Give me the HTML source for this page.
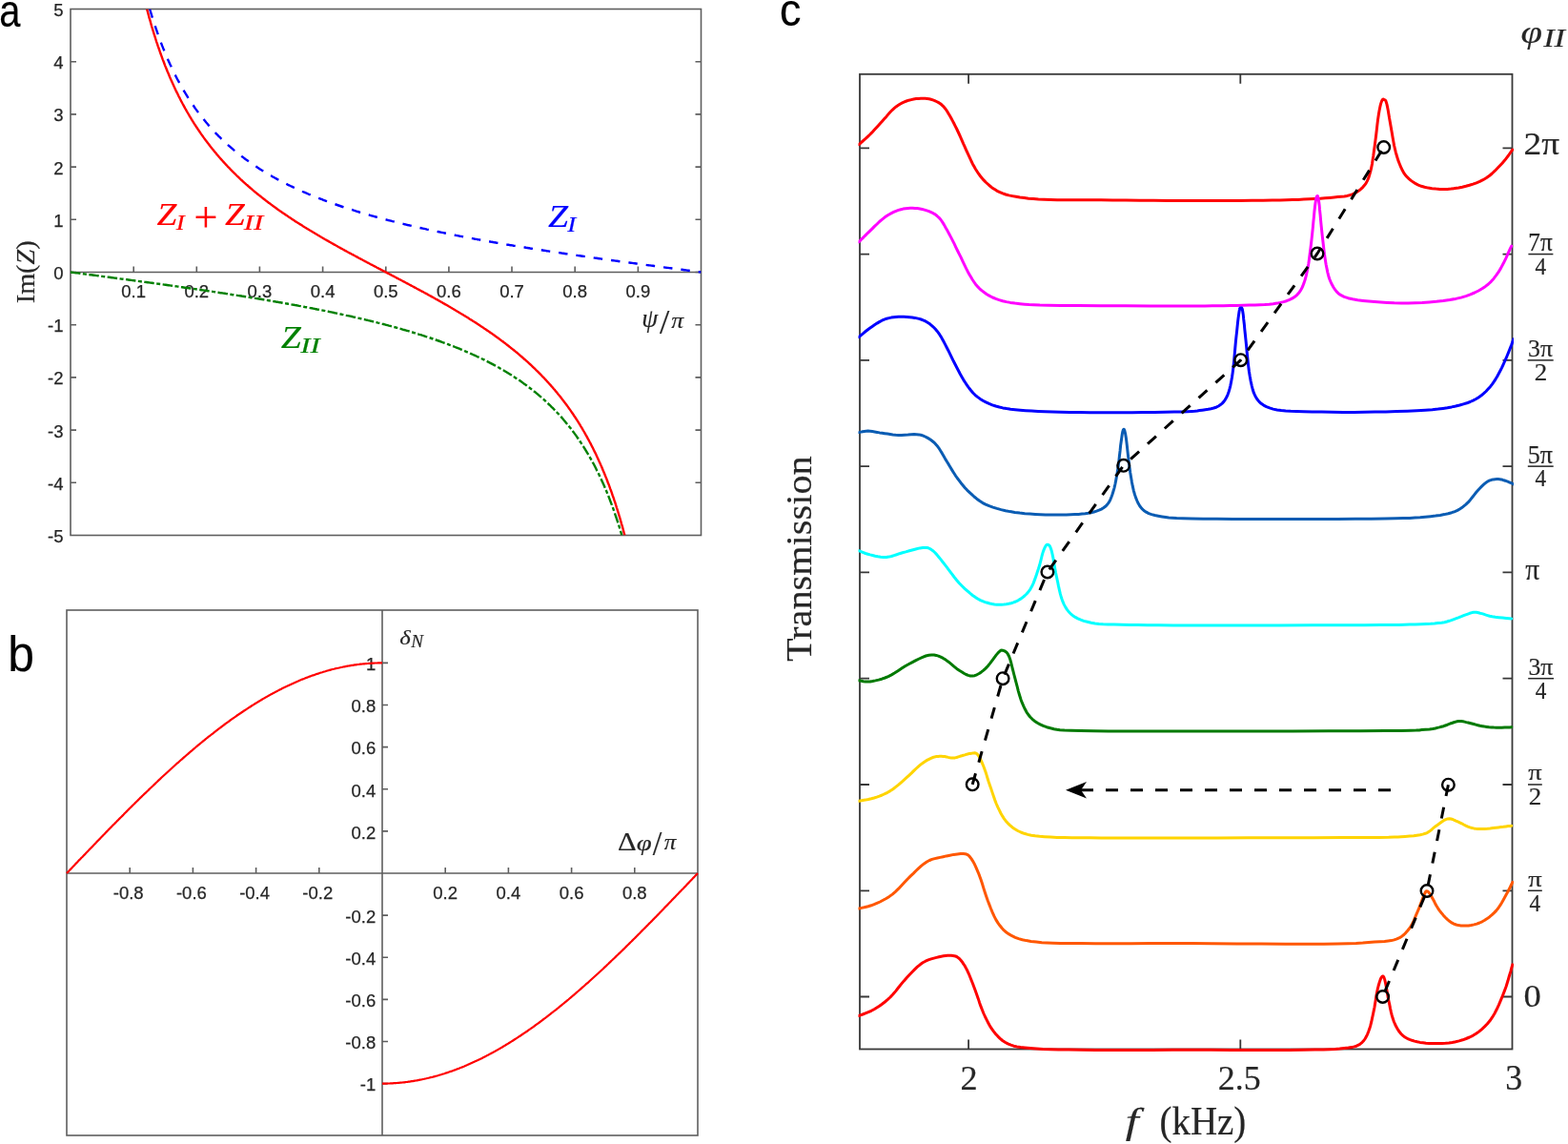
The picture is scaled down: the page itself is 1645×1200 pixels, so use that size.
<!DOCTYPE html>
<html><head><meta charset="utf-8"><title>Figure</title>
<style>html,body{margin:0;padding:0;background:#fff;}svg{display:block;}</style>
</head><body>
<svg width="1645" height="1200" viewBox="0 0 1645 1200">
<rect width="100%" height="100%" fill="#fff"/>
<g id="pa">
<rect x="74.0" y="9.5" width="661.5" height="552.0" fill="none" stroke="#5e5e5e" stroke-width="1.6"/>
<line x1="74.0" y1="285.5" x2="735.5" y2="285.5" stroke="#5e5e5e" stroke-width="1.6"/>
<path d="M74.0 506.3h6M735.5 506.3h-6M74.0 451.1h6M735.5 451.1h-6M74.0 395.9h6M735.5 395.9h-6M74.0 340.7h6M735.5 340.7h-6M74.0 285.5h6M735.5 285.5h-6M74.0 230.3h6M735.5 230.3h-6M74.0 175.1h6M735.5 175.1h-6M74.0 119.9h6M735.5 119.9h-6M74.0 64.7h6M735.5 64.7h-6M140.2 285.5v-6M206.3 285.5v-6M272.4 285.5v-6M338.6 285.5v-6M404.8 285.5v-6M470.9 285.5v-6M537 285.5v-6M603.2 285.5v-6M669.4 285.5v-6" stroke="#5e5e5e" stroke-width="1.6" fill="none"/>
<g font-family="'Liberation Sans', Arial, sans-serif" font-size="18.5" fill="#262626" stroke="#262626" stroke-width="0.25">
<text x="66.5" y="569" text-anchor="end">-5</text>
<text x="66.5" y="513.8" text-anchor="end">-4</text>
<text x="66.5" y="458.6" text-anchor="end">-3</text>
<text x="66.5" y="403.4" text-anchor="end">-2</text>
<text x="66.5" y="348.2" text-anchor="end">-1</text>
<text x="66.5" y="293" text-anchor="end">0</text>
<text x="66.5" y="237.8" text-anchor="end">1</text>
<text x="66.5" y="182.6" text-anchor="end">2</text>
<text x="66.5" y="127.4" text-anchor="end">3</text>
<text x="66.5" y="72.2" text-anchor="end">4</text>
<text x="66.5" y="17" text-anchor="end">5</text>
<text x="140.2" y="312" text-anchor="middle">0.1</text>
<text x="206.3" y="312" text-anchor="middle">0.2</text>
<text x="272.4" y="312" text-anchor="middle">0.3</text>
<text x="338.6" y="312" text-anchor="middle">0.4</text>
<text x="404.8" y="312" text-anchor="middle">0.5</text>
<text x="470.9" y="312" text-anchor="middle">0.6</text>
<text x="537" y="312" text-anchor="middle">0.7</text>
<text x="603.2" y="312" text-anchor="middle">0.8</text>
<text x="669.4" y="312" text-anchor="middle">0.9</text>
</g>
<clipPath id="cpa"><rect x="74.0" y="9.5" width="661.5" height="552.0"/></clipPath>
<g clip-path="url(#cpa)" fill="none" stroke-width="2.4">
<path d="M157.1 9.5 L158.6 14.3 L160 19 L161.5 23.6 L162.9 27.9 L164.4 32.2 L165.8 36.3 L167.2 40.3 L168.7 44.2 L170.1 47.9 L171.6 51.6 L173 55.1 L174.5 58.6 L175.9 61.9 L177.4 65.2 L178.8 68.3 L180.3 71.4 L181.7 74.4 L183.2 77.3 L184.6 80.2 L186 83 L187.5 85.7 L188.9 88.3 L190.4 90.9 L191.8 93.4 L193.3 95.8 L194.7 98.2 L196.2 100.6 L197.6 102.9 L199.1 105.1 L200.5 107.3 L202 109.4 L203.4 111.5 L204.8 113.6 L206.3 115.6 L207.7 117.6 L209.2 119.5 L210.6 121.4 L212.1 123.2 L213.5 125 L215 126.8 L216.4 128.5 L217.9 130.2 L219.3 131.9 L220.7 133.6 L222.2 135.2 L223.6 136.7 L225.1 138.3 L226.5 139.8 L228 141.3 L229.4 142.8 L230.9 144.2 L232.3 145.7 L233.8 147 L235.2 148.4 L236.7 149.8 L238.1 151.1 L239.5 152.4 L241 153.7 L242.4 154.9 L243.9 156.2 L245.3 157.4 L246.8 158.6 L248.2 159.8 L249.7 160.9 L251.1 162.1 L252.6 163.2 L254 164.3 L255.5 165.4 L256.9 166.5 L258.3 167.6 L259.8 168.6 L261.2 169.6 L262.7 170.7 L264.1 171.7 L265.6 172.6 L267 173.6 L268.5 174.6 L269.9 175.5 L271.4 176.5 L272.8 177.4 L274.2 178.3 L275.7 179.2 L277.1 180.1 L278.6 181 L280 181.8 L281.5 182.7 L282.9 183.5 L284.4 184.3 L285.8 185.2 L287.3 186 L288.7 186.8 L290.2 187.6 L291.6 188.4 L293 189.1 L294.5 189.9 L295.9 190.6 L297.4 191.4 L298.8 192.1 L300.3 192.8 L301.7 193.6 L303.2 194.3 L304.6 195 L306.1 195.7 L307.5 196.4 L309 197 L310.4 197.7 L311.8 198.4 L313.3 199 L314.7 199.7 L316.2 200.3 L317.6 201 L319.1 201.6 L320.5 202.2 L322 202.8 L323.4 203.5 L324.9 204.1 L326.3 204.7 L327.7 205.3 L329.2 205.8 L330.6 206.4 L332.1 207 L333.5 207.6 L335 208.1 L336.4 208.7 L337.9 209.2 L339.3 209.8 L340.8 210.3 L342.2 210.9 L343.7 211.4 L345.1 211.9 L346.5 212.5 L348 213 L349.4 213.5 L350.9 214 L352.3 214.5 L353.8 215 L355.2 215.5 L356.7 216 L358.1 216.5 L359.6 217 L361 217.5 L362.5 217.9 L363.9 218.4 L365.3 218.9 L366.8 219.3 L368.2 219.8 L369.7 220.2 L371.1 220.7 L372.6 221.1 L374 221.6 L375.5 222 L376.9 222.5 L378.4 222.9 L379.8 223.3 L381.2 223.8 L382.7 224.2 L384.1 224.6 L385.6 225 L387 225.4 L388.5 225.9 L389.9 226.3 L391.4 226.7 L392.8 227.1 L394.3 227.5 L395.7 227.9 L397.2 228.3 L398.6 228.7 L400 229.1 L401.5 229.4 L402.9 229.8 L404.4 230.2 L405.8 230.6 L407.3 231 L408.7 231.3 L410.2 231.7 L411.6 232.1 L413.1 232.4 L414.5 232.8 L415.9 233.2 L417.4 233.5 L418.8 233.9 L420.3 234.2 L421.7 234.6 L423.2 234.9 L424.6 235.3 L426.1 235.6 L427.5 236 L429 236.3 L430.4 236.6 L431.9 237 L433.3 237.3 L434.7 237.7 L436.2 238 L437.6 238.3 L439.1 238.6 L440.5 239 L442 239.3 L443.4 239.6 L444.9 239.9 L446.3 240.2 L447.8 240.6 L449.2 240.9 L450.7 241.2 L452.1 241.5 L453.5 241.8 L455 242.1 L456.4 242.4 L457.9 242.7 L459.3 243 L460.8 243.3 L462.2 243.6 L463.7 243.9 L465.1 244.2 L466.6 244.5 L468 244.8 L469.4 245.1 L470.9 245.4 L472.3 245.7 L473.8 246 L475.2 246.3 L476.7 246.5 L478.1 246.8 L479.6 247.1 L481 247.4 L482.5 247.7 L483.9 247.9 L485.4 248.2 L486.8 248.5 L488.2 248.8 L489.7 249 L491.1 249.3 L492.6 249.6 L494 249.9 L495.5 250.1 L496.9 250.4 L498.4 250.7 L499.8 250.9 L501.3 251.2 L502.7 251.4 L504.2 251.7 L505.6 252 L507 252.2 L508.5 252.5 L509.9 252.7 L511.4 253 L512.8 253.2 L514.3 253.5 L515.7 253.8 L517.2 254 L518.6 254.3 L520.1 254.5 L521.5 254.8 L522.9 255 L524.4 255.3 L525.8 255.5 L527.3 255.7 L528.7 256 L530.2 256.2 L531.6 256.5 L533.1 256.7 L534.5 257 L536 257.2 L537.4 257.4 L538.9 257.7 L540.3 257.9 L541.7 258.1 L543.2 258.4 L544.6 258.6 L546.1 258.8 L547.5 259.1 L549 259.3 L550.4 259.5 L551.9 259.8 L553.3 260 L554.8 260.2 L556.2 260.5 L557.7 260.7 L559.1 260.9 L560.5 261.1 L562 261.4 L563.4 261.6 L564.9 261.8 L566.3 262 L567.8 262.3 L569.2 262.5 L570.7 262.7 L572.1 262.9 L573.6 263.2 L575 263.4 L576.4 263.6 L577.9 263.8 L579.3 264 L580.8 264.3 L582.2 264.5 L583.7 264.7 L585.1 264.9 L586.6 265.1 L588 265.3 L589.5 265.6 L590.9 265.8 L592.4 266 L593.8 266.2 L595.2 266.4 L596.7 266.6 L598.1 266.8 L599.6 267 L601 267.2 L602.5 267.5 L603.9 267.7 L605.4 267.9 L606.8 268.1 L608.3 268.3 L609.7 268.5 L611.2 268.7 L612.6 268.9 L614 269.1 L615.5 269.3 L616.9 269.5 L618.4 269.7 L619.8 269.9 L621.3 270.1 L622.7 270.4 L624.2 270.6 L625.6 270.8 L627.1 271 L628.5 271.2 L629.9 271.4 L631.4 271.6 L632.8 271.8 L634.3 272 L635.7 272.2 L637.2 272.4 L638.6 272.6 L640.1 272.8 L641.5 273 L643 273.2 L644.4 273.4 L645.9 273.6 L647.3 273.8 L648.7 274 L650.2 274.2 L651.6 274.4 L653.1 274.6 L654.5 274.8 L656 275 L657.4 275.1 L658.9 275.3 L660.3 275.5 L661.8 275.7 L663.2 275.9 L664.6 276.1 L666.1 276.3 L667.5 276.5 L669 276.7 L670.4 276.9 L671.9 277.1 L673.3 277.3 L674.8 277.5 L676.2 277.7 L677.7 277.9 L679.1 278.1 L680.6 278.3 L682 278.4 L683.4 278.6 L684.9 278.8 L686.3 279 L687.8 279.2 L689.2 279.4 L690.7 279.6 L692.1 279.8 L693.6 280 L695 280.2 L696.5 280.4 L697.9 280.6 L699.4 280.8 L700.8 280.9 L702.2 281.1 L703.7 281.3 L705.1 281.5 L706.6 281.7 L708 281.9 L709.5 282.1 L710.9 282.3 L712.4 282.5 L713.8 282.7 L715.3 282.8 L716.7 283 L718.1 283.2 L719.6 283.4 L721 283.6 L722.5 283.8 L723.9 284 L725.4 284.2 L726.8 284.4 L728.3 284.6 L729.7 284.7 L731.2 284.9 L732.6 285.1 L734.1 285.3 L735.5 285.5" stroke="#0000ff" stroke-dasharray="9.5 9"/>
<path d="M74 285.5 L75.4 285.7 L76.9 285.9 L78.3 286.1 L79.8 286.3 L81.2 286.4 L82.7 286.6 L84.1 286.8 L85.6 287 L87 287.2 L88.5 287.4 L89.9 287.6 L91.4 287.8 L92.8 288 L94.2 288.2 L95.7 288.3 L97.1 288.5 L98.6 288.7 L100 288.9 L101.5 289.1 L102.9 289.3 L104.4 289.5 L105.8 289.7 L107.3 289.9 L108.7 290.1 L110.1 290.2 L111.6 290.4 L113 290.6 L114.5 290.8 L115.9 291 L117.4 291.2 L118.8 291.4 L120.3 291.6 L121.7 291.8 L123.2 292 L124.6 292.2 L126.1 292.4 L127.5 292.6 L128.9 292.7 L130.4 292.9 L131.8 293.1 L133.3 293.3 L134.7 293.5 L136.2 293.7 L137.6 293.9 L139.1 294.1 L140.5 294.3 L142 294.5 L143.4 294.7 L144.9 294.9 L146.3 295.1 L147.7 295.3 L149.2 295.5 L150.6 295.7 L152.1 295.9 L153.5 296 L155 296.2 L156.4 296.4 L157.9 296.6 L159.3 296.8 L160.8 297 L162.2 297.2 L163.6 297.4 L165.1 297.6 L166.5 297.8 L168 298 L169.4 298.2 L170.9 298.4 L172.3 298.6 L173.8 298.8 L175.2 299 L176.7 299.2 L178.1 299.4 L179.6 299.6 L181 299.8 L182.4 300 L183.9 300.2 L185.3 300.4 L186.8 300.6 L188.2 300.9 L189.7 301.1 L191.1 301.3 L192.6 301.5 L194 301.7 L195.5 301.9 L196.9 302.1 L198.3 302.3 L199.8 302.5 L201.2 302.7 L202.7 302.9 L204.1 303.1 L205.6 303.3 L207 303.5 L208.5 303.8 L209.9 304 L211.4 304.2 L212.8 304.4 L214.3 304.6 L215.7 304.8 L217.1 305 L218.6 305.2 L220 305.4 L221.5 305.7 L222.9 305.9 L224.4 306.1 L225.8 306.3 L227.3 306.5 L228.7 306.7 L230.2 307 L231.6 307.2 L233.1 307.4 L234.5 307.6 L235.9 307.8 L237.4 308.1 L238.8 308.3 L240.3 308.5 L241.7 308.7 L243.2 309 L244.6 309.2 L246.1 309.4 L247.5 309.6 L249 309.9 L250.4 310.1 L251.8 310.3 L253.3 310.5 L254.7 310.8 L256.2 311 L257.6 311.2 L259.1 311.5 L260.5 311.7 L262 311.9 L263.4 312.2 L264.9 312.4 L266.3 312.6 L267.8 312.9 L269.2 313.1 L270.6 313.3 L272.1 313.6 L273.5 313.8 L275 314 L276.4 314.3 L277.9 314.5 L279.3 314.8 L280.8 315 L282.2 315.3 L283.7 315.5 L285.1 315.7 L286.6 316 L288 316.2 L289.4 316.5 L290.9 316.7 L292.3 317 L293.8 317.2 L295.2 317.5 L296.7 317.8 L298.1 318 L299.6 318.3 L301 318.5 L302.5 318.8 L303.9 319 L305.3 319.3 L306.8 319.6 L308.2 319.8 L309.7 320.1 L311.1 320.3 L312.6 320.6 L314 320.9 L315.5 321.1 L316.9 321.4 L318.4 321.7 L319.8 322 L321.3 322.2 L322.7 322.5 L324.1 322.8 L325.6 323.1 L327 323.3 L328.5 323.6 L329.9 323.9 L331.4 324.2 L332.8 324.5 L334.3 324.7 L335.7 325 L337.2 325.3 L338.6 325.6 L340.1 325.9 L341.5 326.2 L342.9 326.5 L344.4 326.8 L345.8 327.1 L347.3 327.4 L348.7 327.7 L350.2 328 L351.6 328.3 L353.1 328.6 L354.5 328.9 L356 329.2 L357.4 329.5 L358.8 329.8 L360.3 330.1 L361.7 330.4 L363.2 330.8 L364.6 331.1 L366.1 331.4 L367.5 331.7 L369 332 L370.4 332.4 L371.9 332.7 L373.3 333 L374.8 333.3 L376.2 333.7 L377.6 334 L379.1 334.4 L380.5 334.7 L382 335 L383.4 335.4 L384.9 335.7 L386.3 336.1 L387.8 336.4 L389.2 336.8 L390.7 337.1 L392.1 337.5 L393.6 337.8 L395 338.2 L396.4 338.6 L397.9 338.9 L399.3 339.3 L400.8 339.7 L402.2 340 L403.7 340.4 L405.1 340.8 L406.6 341.2 L408 341.6 L409.5 341.9 L410.9 342.3 L412.3 342.7 L413.8 343.1 L415.2 343.5 L416.7 343.9 L418.1 344.3 L419.6 344.7 L421 345.1 L422.5 345.6 L423.9 346 L425.4 346.4 L426.8 346.8 L428.3 347.2 L429.7 347.7 L431.1 348.1 L432.6 348.5 L434 349 L435.5 349.4 L436.9 349.9 L438.4 350.3 L439.8 350.8 L441.3 351.2 L442.7 351.7 L444.2 352.1 L445.6 352.6 L447 353.1 L448.5 353.5 L449.9 354 L451.4 354.5 L452.8 355 L454.3 355.5 L455.7 356 L457.2 356.5 L458.6 357 L460.1 357.5 L461.5 358 L463 358.5 L464.4 359.1 L465.8 359.6 L467.3 360.1 L468.7 360.7 L470.2 361.2 L471.6 361.8 L473.1 362.3 L474.5 362.9 L476 363.4 L477.4 364 L478.9 364.6 L480.3 365.2 L481.8 365.7 L483.2 366.3 L484.6 366.9 L486.1 367.5 L487.5 368.2 L489 368.8 L490.4 369.4 L491.9 370 L493.3 370.7 L494.8 371.3 L496.2 372 L497.7 372.6 L499.1 373.3 L500.5 374 L502 374.6 L503.4 375.3 L504.9 376 L506.3 376.7 L507.8 377.4 L509.2 378.2 L510.7 378.9 L512.1 379.6 L513.6 380.4 L515 381.1 L516.5 381.9 L517.9 382.6 L519.3 383.4 L520.8 384.2 L522.2 385 L523.7 385.8 L525.1 386.7 L526.6 387.5 L528 388.3 L529.5 389.2 L530.9 390 L532.4 390.9 L533.8 391.8 L535.3 392.7 L536.7 393.6 L538.1 394.5 L539.6 395.5 L541 396.4 L542.5 397.4 L543.9 398.4 L545.4 399.3 L546.8 400.3 L548.3 401.4 L549.7 402.4 L551.2 403.4 L552.6 404.5 L554 405.6 L555.5 406.7 L556.9 407.8 L558.4 408.9 L559.8 410.1 L561.3 411.2 L562.7 412.4 L564.2 413.6 L565.6 414.8 L567.1 416.1 L568.5 417.3 L570 418.6 L571.4 419.9 L572.8 421.2 L574.3 422.6 L575.7 424 L577.2 425.3 L578.6 426.8 L580.1 428.2 L581.5 429.7 L583 431.2 L584.4 432.7 L585.9 434.3 L587.3 435.8 L588.8 437.4 L590.2 439.1 L591.6 440.8 L593.1 442.5 L594.5 444.2 L596 446 L597.4 447.8 L598.9 449.6 L600.3 451.5 L601.8 453.4 L603.2 455.4 L604.7 457.4 L606.1 459.5 L607.5 461.6 L609 463.7 L610.4 465.9 L611.9 468.1 L613.3 470.4 L614.8 472.8 L616.2 475.2 L617.7 477.6 L619.1 480.1 L620.6 482.7 L622 485.3 L623.5 488 L624.9 490.8 L626.3 493.7 L627.8 496.6 L629.2 499.6 L630.7 502.7 L632.1 505.8 L633.6 509.1 L635 512.4 L636.5 515.9 L637.9 519.4 L639.4 523.1 L640.8 526.8 L642.3 530.7 L643.7 534.7 L645.1 538.8 L646.6 543.1 L648 547.4 L649.5 552 L650.9 556.7 L652.4 561.5" stroke="#008000" stroke-dasharray="10.5 2.5 4 2.5"/>
<path d="M154.1 9.5 L155 12.6 L155.8 15.7 L156.6 18.8 L157.5 21.7 L158.3 24.6 L159.1 27.5 L160 30.3 L160.8 33 L161.6 35.7 L162.5 38.4 L163.3 41 L164.1 43.6 L165 46.1 L165.8 48.6 L166.7 51 L167.5 53.4 L168.3 55.8 L169.2 58.1 L170 60.4 L170.8 62.6 L171.7 64.8 L172.5 67 L173.3 69.1 L174.2 71.2 L175 73.3 L175.8 75.3 L176.7 77.3 L177.5 79.3 L178.3 81.3 L179.2 83.2 L180 85.1 L180.9 87 L181.7 88.8 L182.5 90.6 L183.4 92.4 L184.2 94.2 L185 95.9 L185.9 97.6 L186.7 99.3 L187.5 101 L188.4 102.6 L189.2 104.3 L190 105.9 L190.9 107.5 L191.7 109 L192.6 110.6 L193.4 112.1 L194.2 113.6 L195.1 115.1 L195.9 116.6 L196.7 118 L197.6 119.5 L198.4 120.9 L199.2 122.3 L200.1 123.7 L200.9 125.1 L201.7 126.4 L202.6 127.8 L203.4 129.1 L204.2 130.4 L205.1 131.7 L205.9 133 L206.8 134.2 L207.6 135.5 L208.4 136.7 L209.3 138 L210.1 139.2 L210.9 140.4 L211.8 141.6 L212.6 142.7 L213.4 143.9 L214.3 145.1 L215.1 146.2 L215.9 147.3 L216.8 148.4 L217.6 149.5 L218.4 150.6 L219.3 151.7 L220.1 152.8 L221 153.9 L221.8 154.9 L222.6 156 L223.5 157 L224.3 158 L225.1 159.1 L226 160.1 L226.8 161.1 L227.6 162.1 L228.5 163 L229.3 164 L230.1 165 L231 165.9 L231.8 166.9 L232.7 167.8 L233.5 168.7 L234.3 169.7 L235.2 170.6 L236 171.5 L236.8 172.4 L237.7 173.3 L238.5 174.2 L239.3 175.1 L240.2 175.9 L241 176.8 L241.8 177.7 L242.7 178.5 L243.5 179.4 L244.3 180.2 L245.2 181 L246 181.9 L246.9 182.7 L247.7 183.5 L248.5 184.3 L249.4 185.1 L250.2 185.9 L251 186.7 L251.9 187.5 L252.7 188.3 L253.5 189 L254.4 189.8 L255.2 190.6 L256 191.3 L256.9 192.1 L257.7 192.8 L258.5 193.6 L259.4 194.3 L260.2 195 L261.1 195.8 L261.9 196.5 L262.7 197.2 L263.6 197.9 L264.4 198.7 L265.2 199.4 L266.1 200.1 L266.9 200.8 L267.7 201.5 L268.6 202.1 L269.4 202.8 L270.2 203.5 L271.1 204.2 L271.9 204.9 L272.8 205.5 L273.6 206.2 L274.4 206.9 L275.3 207.5 L276.1 208.2 L276.9 208.8 L277.8 209.5 L278.6 210.1 L279.4 210.8 L280.3 211.4 L281.1 212 L281.9 212.7 L282.8 213.3 L283.6 213.9 L284.4 214.5 L285.3 215.1 L286.1 215.8 L287 216.4 L287.8 217 L288.6 217.6 L289.5 218.2 L290.3 218.8 L291.1 219.4 L292 220 L292.8 220.6 L293.6 221.2 L294.5 221.7 L295.3 222.3 L296.1 222.9 L297 223.5 L297.8 224.1 L298.7 224.6 L299.5 225.2 L300.3 225.8 L301.2 226.3 L302 226.9 L302.8 227.5 L303.7 228 L304.5 228.6 L305.3 229.1 L306.2 229.7 L307 230.2 L307.8 230.8 L308.7 231.3 L309.5 231.9 L310.3 232.4 L311.2 232.9 L312 233.5 L312.9 234 L313.7 234.5 L314.5 235.1 L315.4 235.6 L316.2 236.1 L317 236.6 L317.9 237.2 L318.7 237.7 L319.5 238.2 L320.4 238.7 L321.2 239.2 L322 239.8 L322.9 240.3 L323.7 240.8 L324.5 241.3 L325.4 241.8 L326.2 242.3 L327.1 242.8 L327.9 243.3 L328.7 243.8 L329.6 244.3 L330.4 244.8 L331.2 245.3 L332.1 245.8 L332.9 246.3 L333.7 246.8 L334.6 247.3 L335.4 247.8 L336.2 248.3 L337.1 248.7 L337.9 249.2 L338.8 249.7 L339.6 250.2 L340.4 250.7 L341.3 251.2 L342.1 251.6 L342.9 252.1 L343.8 252.6 L344.6 253.1 L345.4 253.6 L346.3 254 L347.1 254.5 L347.9 255 L348.8 255.4 L349.6 255.9 L350.4 256.4 L351.3 256.8 L352.1 257.3 L353 257.8 L353.8 258.2 L354.6 258.7 L355.5 259.2 L356.3 259.6 L357.1 260.1 L358 260.6 L358.8 261 L359.6 261.5 L360.5 261.9 L361.3 262.4 L362.1 262.9 L363 263.3 L363.8 263.8 L364.6 264.2 L365.5 264.7 L366.3 265.1 L367.2 265.6 L368 266 L368.8 266.5 L369.7 266.9 L370.5 267.4 L371.3 267.8 L372.2 268.3 L373 268.7 L373.8 269.2 L374.7 269.6 L375.5 270.1 L376.3 270.5 L377.2 271 L378 271.4 L378.9 271.9 L379.7 272.3 L380.5 272.7 L381.4 273.2 L382.2 273.6 L383 274.1 L383.9 274.5 L384.7 275 L385.5 275.4 L386.4 275.8 L387.2 276.3 L388 276.7 L388.9 277.2 L389.7 277.6 L390.5 278 L391.4 278.5 L392.2 278.9 L393.1 279.4 L393.9 279.8 L394.7 280.2 L395.6 280.7 L396.4 281.1 L397.2 281.6 L398.1 282 L398.9 282.4 L399.7 282.9 L400.6 283.3 L401.4 283.7 L402.2 284.2 L403.1 284.6 L403.9 285.1 L404.8 285.5 L405.6 285.9 L406.4 286.4 L407.3 286.8 L408.1 287.3 L408.9 287.7 L409.8 288.1 L410.6 288.6 L411.4 289 L412.3 289.4 L413.1 289.9 L413.9 290.3 L414.8 290.8 L415.6 291.2 L416.4 291.6 L417.3 292.1 L418.1 292.5 L419 293 L419.8 293.4 L420.6 293.8 L421.5 294.3 L422.3 294.7 L423.1 295.2 L424 295.6 L424.8 296 L425.6 296.5 L426.5 296.9 L427.3 297.4 L428.1 297.8 L429 298.3 L429.8 298.7 L430.6 299.1 L431.5 299.6 L432.3 300 L433.2 300.5 L434 300.9 L434.8 301.4 L435.7 301.8 L436.5 302.3 L437.3 302.7 L438.2 303.2 L439 303.6 L439.8 304.1 L440.7 304.5 L441.5 305 L442.3 305.4 L443.2 305.9 L444 306.3 L444.9 306.8 L445.7 307.2 L446.5 307.7 L447.4 308.1 L448.2 308.6 L449 309.1 L449.9 309.5 L450.7 310 L451.5 310.4 L452.4 310.9 L453.2 311.4 L454 311.8 L454.9 312.3 L455.7 312.8 L456.5 313.2 L457.4 313.7 L458.2 314.2 L459.1 314.6 L459.9 315.1 L460.7 315.6 L461.6 316 L462.4 316.5 L463.2 317 L464.1 317.4 L464.9 317.9 L465.7 318.4 L466.6 318.9 L467.4 319.4 L468.2 319.8 L469.1 320.3 L469.9 320.8 L470.7 321.3 L471.6 321.8 L472.4 322.3 L473.3 322.7 L474.1 323.2 L474.9 323.7 L475.8 324.2 L476.6 324.7 L477.4 325.2 L478.3 325.7 L479.1 326.2 L479.9 326.7 L480.8 327.2 L481.6 327.7 L482.4 328.2 L483.3 328.7 L484.1 329.2 L485 329.7 L485.8 330.2 L486.6 330.7 L487.5 331.2 L488.3 331.8 L489.1 332.3 L490 332.8 L490.8 333.3 L491.6 333.8 L492.5 334.4 L493.3 334.9 L494.1 335.4 L495 335.9 L495.8 336.5 L496.6 337 L497.5 337.5 L498.3 338.1 L499.2 338.6 L500 339.1 L500.8 339.7 L501.7 340.2 L502.5 340.8 L503.3 341.3 L504.2 341.9 L505 342.4 L505.8 343 L506.7 343.5 L507.5 344.1 L508.3 344.7 L509.2 345.2 L510 345.8 L510.8 346.4 L511.7 346.9 L512.5 347.5 L513.4 348.1 L514.2 348.7 L515 349.3 L515.9 349.8 L516.7 350.4 L517.5 351 L518.4 351.6 L519.2 352.2 L520 352.8 L520.9 353.4 L521.7 354 L522.5 354.6 L523.4 355.2 L524.2 355.9 L525.1 356.5 L525.9 357.1 L526.7 357.7 L527.6 358.3 L528.4 359 L529.2 359.6 L530.1 360.2 L530.9 360.9 L531.7 361.5 L532.6 362.2 L533.4 362.8 L534.2 363.5 L535.1 364.1 L535.9 364.8 L536.7 365.5 L537.6 366.1 L538.4 366.8 L539.3 367.5 L540.1 368.2 L540.9 368.9 L541.8 369.5 L542.6 370.2 L543.4 370.9 L544.3 371.6 L545.1 372.3 L545.9 373.1 L546.8 373.8 L547.6 374.5 L548.4 375.2 L549.3 376 L550.1 376.7 L551 377.4 L551.8 378.2 L552.6 378.9 L553.5 379.7 L554.3 380.4 L555.1 381.2 L556 382 L556.8 382.7 L557.6 383.5 L558.5 384.3 L559.3 385.1 L560.1 385.9 L561 386.7 L561.8 387.5 L562.6 388.3 L563.5 389.1 L564.3 390 L565.2 390.8 L566 391.6 L566.8 392.5 L567.7 393.3 L568.5 394.2 L569.3 395.1 L570.2 395.9 L571 396.8 L571.8 397.7 L572.7 398.6 L573.5 399.5 L574.3 400.4 L575.2 401.3 L576 402.3 L576.8 403.2 L577.7 404.1 L578.5 405.1 L579.4 406 L580.2 407 L581 408 L581.9 408.9 L582.7 409.9 L583.5 410.9 L584.4 411.9 L585.2 413 L586 414 L586.9 415 L587.7 416.1 L588.5 417.1 L589.4 418.2 L590.2 419.3 L591.1 420.4 L591.9 421.5 L592.7 422.6 L593.6 423.7 L594.4 424.8 L595.2 425.9 L596.1 427.1 L596.9 428.3 L597.7 429.4 L598.6 430.6 L599.4 431.8 L600.2 433 L601.1 434.3 L601.9 435.5 L602.7 436.8 L603.6 438 L604.4 439.3 L605.3 440.6 L606.1 441.9 L606.9 443.2 L607.8 444.6 L608.6 445.9 L609.4 447.3 L610.3 448.7 L611.1 450.1 L611.9 451.5 L612.8 453 L613.6 454.4 L614.4 455.9 L615.3 457.4 L616.1 458.9 L616.9 460.4 L617.8 462 L618.6 463.5 L619.5 465.1 L620.3 466.7 L621.1 468.4 L622 470 L622.8 471.7 L623.6 473.4 L624.5 475.1 L625.3 476.8 L626.1 478.6 L627 480.4 L627.8 482.2 L628.6 484 L629.5 485.9 L630.3 487.8 L631.2 489.7 L632 491.7 L632.8 493.7 L633.7 495.7 L634.5 497.7 L635.3 499.8 L636.2 501.9 L637 504 L637.8 506.2 L638.7 508.4 L639.5 510.6 L640.3 512.9 L641.2 515.2 L642 517.6 L642.8 520 L643.7 522.4 L644.5 524.9 L645.4 527.4 L646.2 530 L647 532.6 L647.9 535.3 L648.7 538 L649.5 540.7 L650.4 543.5 L651.2 546.4 L652 549.3 L652.9 552.2 L653.7 555.3 L654.5 558.4 L655.4 561.5" stroke="#ff0000"/>
</g>
</g>
<g id="pb">
<rect x="70.0" y="640.0" width="662.0" height="551.0" fill="none" stroke="#5e5e5e" stroke-width="1.6"/>
<line x1="70.0" y1="916.0" x2="732.0" y2="916.0" stroke="#5e5e5e" stroke-width="1.6"/>
<line x1="401" y1="640.0" x2="401" y2="1191.0" stroke="#5e5e5e" stroke-width="1.6"/>
<path d="M401 1136.6h6M401 1092.5h6M401 1048.4h6M401 1004.2h6M401 960.1h6M401 871.9h6M401 827.8h6M401 783.6h6M401 739.5h6M401 695.4h6M136.2 916.0v-6M202.4 916.0v-6M268.6 916.0v-6M334.8 916.0v-6M467.2 916.0v-6M533.4 916.0v-6M599.6 916.0v-6M665.8 916.0v-6" stroke="#5e5e5e" stroke-width="1.6" fill="none"/>
<g font-family="'Liberation Sans', Arial, sans-serif" font-size="18.5" fill="#262626" stroke="#262626" stroke-width="0.25">
<text x="394.2" y="1144.4" text-anchor="end">-1</text>
<text x="394.2" y="1100.3" text-anchor="end">-0.8</text>
<text x="394.2" y="1056.2" text-anchor="end">-0.6</text>
<text x="394.2" y="1012" text-anchor="end">-0.4</text>
<text x="394.2" y="967.9" text-anchor="end">-0.2</text>
<text x="394.2" y="879.7" text-anchor="end">0.2</text>
<text x="394.2" y="835.6" text-anchor="end">0.4</text>
<text x="394.2" y="791.4" text-anchor="end">0.6</text>
<text x="394.2" y="747.3" text-anchor="end">0.8</text>
<text x="394.2" y="703.2" text-anchor="end">1</text>
<text x="134.7" y="943" text-anchor="middle">-0.8</text>
<text x="200.9" y="943" text-anchor="middle">-0.6</text>
<text x="267.1" y="943" text-anchor="middle">-0.4</text>
<text x="333.3" y="943" text-anchor="middle">-0.2</text>
<text x="467.2" y="943" text-anchor="middle">0.2</text>
<text x="533.4" y="943" text-anchor="middle">0.4</text>
<text x="599.6" y="943" text-anchor="middle">0.6</text>
<text x="665.8" y="943" text-anchor="middle">0.8</text>
</g>
<path d="M70 916 L71.1 914.8 L72.2 913.7 L73.3 912.5 L74.4 911.4 L75.5 910.2 L76.6 909.1 L77.7 907.9 L78.8 906.8 L79.9 905.6 L81 904.5 L82.1 903.3 L83.2 902.1 L84.3 901 L85.4 899.8 L86.6 898.7 L87.7 897.5 L88.8 896.4 L89.9 895.2 L91 894.1 L92.1 892.9 L93.2 891.8 L94.3 890.6 L95.4 889.5 L96.5 888.4 L97.6 887.2 L98.7 886.1 L99.8 884.9 L100.9 883.8 L102 882.6 L103.1 881.5 L104.2 880.4 L105.3 879.2 L106.4 878.1 L107.5 876.9 L108.6 875.8 L109.7 874.7 L110.8 873.5 L111.9 872.4 L113 871.3 L114.1 870.1 L115.2 869 L116.3 867.9 L117.4 866.8 L118.5 865.6 L119.7 864.5 L120.8 863.4 L121.9 862.3 L123 861.1 L124.1 860 L125.2 858.9 L126.3 857.8 L127.4 856.7 L128.5 855.6 L129.6 854.5 L130.7 853.3 L131.8 852.2 L132.9 851.1 L134 850 L135.1 848.9 L136.2 847.8 L137.3 846.7 L138.4 845.6 L139.5 844.5 L140.6 843.5 L141.7 842.4 L142.8 841.3 L143.9 840.2 L145 839.1 L146.1 838 L147.2 836.9 L148.3 835.9 L149.4 834.8 L150.5 833.7 L151.6 832.6 L152.8 831.6 L153.9 830.5 L155 829.5 L156.1 828.4 L157.2 827.3 L158.3 826.3 L159.4 825.2 L160.5 824.2 L161.6 823.1 L162.7 822.1 L163.8 821 L164.9 820 L166 818.9 L167.1 817.9 L168.2 816.9 L169.3 815.8 L170.4 814.8 L171.5 813.8 L172.6 812.8 L173.7 811.8 L174.8 810.7 L175.9 809.7 L177 808.7 L178.1 807.7 L179.2 806.7 L180.3 805.7 L181.4 804.7 L182.5 803.7 L183.6 802.7 L184.7 801.7 L185.8 800.7 L187 799.8 L188.1 798.8 L189.2 797.8 L190.3 796.8 L191.4 795.9 L192.5 794.9 L193.6 793.9 L194.7 793 L195.8 792 L196.9 791.1 L198 790.1 L199.1 789.2 L200.2 788.2 L201.3 787.3 L202.4 786.3 L203.5 785.4 L204.6 784.5 L205.7 783.5 L206.8 782.6 L207.9 781.7 L209 780.8 L210.1 779.9 L211.2 779 L212.3 778.1 L213.4 777.2 L214.5 776.3 L215.6 775.4 L216.7 774.5 L217.8 773.6 L218.9 772.7 L220.1 771.9 L221.2 771 L222.3 770.1 L223.4 769.3 L224.5 768.4 L225.6 767.5 L226.7 766.7 L227.8 765.8 L228.9 765 L230 764.1 L231.1 763.3 L232.2 762.5 L233.3 761.7 L234.4 760.8 L235.5 760 L236.6 759.2 L237.7 758.4 L238.8 757.6 L239.9 756.8 L241 756 L242.1 755.2 L243.2 754.4 L244.3 753.6 L245.4 752.8 L246.5 752.1 L247.6 751.3 L248.7 750.5 L249.8 749.8 L250.9 749 L252.1 748.3 L253.2 747.5 L254.3 746.8 L255.4 746 L256.5 745.3 L257.6 744.6 L258.7 743.8 L259.8 743.1 L260.9 742.4 L262 741.7 L263.1 741 L264.2 740.3 L265.3 739.6 L266.4 738.9 L267.5 738.2 L268.6 737.5 L269.7 736.9 L270.8 736.2 L271.9 735.5 L273 734.9 L274.1 734.2 L275.2 733.5 L276.3 732.9 L277.4 732.3 L278.5 731.6 L279.6 731 L280.7 730.4 L281.8 729.7 L282.9 729.1 L284 728.5 L285.1 727.9 L286.3 727.3 L287.4 726.7 L288.5 726.1 L289.6 725.5 L290.7 725 L291.8 724.4 L292.9 723.8 L294 723.2 L295.1 722.7 L296.2 722.1 L297.3 721.6 L298.4 721 L299.5 720.5 L300.6 720 L301.7 719.4 L302.8 718.9 L303.9 718.4 L305 717.9 L306.1 717.4 L307.2 716.9 L308.3 716.4 L309.4 715.9 L310.5 715.4 L311.6 714.9 L312.7 714.5 L313.8 714 L314.9 713.5 L316 713.1 L317.1 712.6 L318.2 712.2 L319.4 711.8 L320.5 711.3 L321.6 710.9 L322.7 710.5 L323.8 710.1 L324.9 709.6 L326 709.2 L327.1 708.8 L328.2 708.4 L329.3 708.1 L330.4 707.7 L331.5 707.3 L332.6 706.9 L333.7 706.6 L334.8 706.2 L335.9 705.8 L337 705.5 L338.1 705.2 L339.2 704.8 L340.3 704.5 L341.4 704.2 L342.5 703.8 L343.6 703.5 L344.7 703.2 L345.8 702.9 L346.9 702.6 L348 702.3 L349.1 702 L350.2 701.8 L351.3 701.5 L352.5 701.2 L353.6 701 L354.7 700.7 L355.8 700.5 L356.9 700.2 L358 700 L359.1 699.8 L360.2 699.5 L361.3 699.3 L362.4 699.1 L363.5 698.9 L364.6 698.7 L365.7 698.5 L366.8 698.3 L367.9 698.1 L369 697.9 L370.1 697.8 L371.2 697.6 L372.3 697.4 L373.4 697.3 L374.5 697.1 L375.6 697 L376.7 696.9 L377.8 696.7 L378.9 696.6 L380 696.5 L381.1 696.4 L382.2 696.3 L383.3 696.2 L384.4 696.1 L385.6 696 L386.7 695.9 L387.8 695.8 L388.9 695.8 L390 695.7 L391.1 695.6 L392.2 695.6 L393.3 695.5 L394.4 695.5 L395.5 695.5 L396.6 695.4 L397.7 695.4 L398.8 695.4 L399.9 695.4 L401 695.4" stroke="#ff0000" stroke-width="2.2" fill="none"/>
<path d="M401 1136.6 L402.1 1136.6 L403.2 1136.6 L404.3 1136.6 L405.4 1136.6 L406.5 1136.5 L407.6 1136.5 L408.7 1136.5 L409.8 1136.4 L410.9 1136.4 L412 1136.3 L413.1 1136.2 L414.2 1136.2 L415.3 1136.1 L416.4 1136 L417.6 1135.9 L418.7 1135.8 L419.8 1135.7 L420.9 1135.6 L422 1135.5 L423.1 1135.4 L424.2 1135.3 L425.3 1135.1 L426.4 1135 L427.5 1134.9 L428.6 1134.7 L429.7 1134.6 L430.8 1134.4 L431.9 1134.2 L433 1134.1 L434.1 1133.9 L435.2 1133.7 L436.3 1133.5 L437.4 1133.3 L438.5 1133.1 L439.6 1132.9 L440.7 1132.7 L441.8 1132.5 L442.9 1132.2 L444 1132 L445.1 1131.8 L446.2 1131.5 L447.3 1131.3 L448.4 1131 L449.5 1130.8 L450.6 1130.5 L451.8 1130.2 L452.9 1130 L454 1129.7 L455.1 1129.4 L456.2 1129.1 L457.3 1128.8 L458.4 1128.5 L459.5 1128.2 L460.6 1127.8 L461.7 1127.5 L462.8 1127.2 L463.9 1126.8 L465 1126.5 L466.1 1126.2 L467.2 1125.8 L468.3 1125.4 L469.4 1125.1 L470.5 1124.7 L471.6 1124.3 L472.7 1123.9 L473.8 1123.6 L474.9 1123.2 L476 1122.8 L477.1 1122.4 L478.2 1121.9 L479.3 1121.5 L480.4 1121.1 L481.5 1120.7 L482.6 1120.2 L483.8 1119.8 L484.9 1119.4 L486 1118.9 L487.1 1118.5 L488.2 1118 L489.3 1117.5 L490.4 1117.1 L491.5 1116.6 L492.6 1116.1 L493.7 1115.6 L494.8 1115.1 L495.9 1114.6 L497 1114.1 L498.1 1113.6 L499.2 1113.1 L500.3 1112.6 L501.4 1112 L502.5 1111.5 L503.6 1111 L504.7 1110.4 L505.8 1109.9 L506.9 1109.3 L508 1108.8 L509.1 1108.2 L510.2 1107.6 L511.3 1107 L512.4 1106.5 L513.5 1105.9 L514.6 1105.3 L515.7 1104.7 L516.9 1104.1 L518 1103.5 L519.1 1102.9 L520.2 1102.3 L521.3 1101.6 L522.4 1101 L523.5 1100.4 L524.6 1099.7 L525.7 1099.1 L526.8 1098.5 L527.9 1097.8 L529 1097.1 L530.1 1096.5 L531.2 1095.8 L532.3 1095.1 L533.4 1094.5 L534.5 1093.8 L535.6 1093.1 L536.7 1092.4 L537.8 1091.7 L538.9 1091 L540 1090.3 L541.1 1089.6 L542.2 1088.9 L543.3 1088.2 L544.4 1087.4 L545.5 1086.7 L546.6 1086 L547.7 1085.2 L548.8 1084.5 L550 1083.7 L551.1 1083 L552.2 1082.2 L553.3 1081.5 L554.4 1080.7 L555.5 1079.9 L556.6 1079.2 L557.7 1078.4 L558.8 1077.6 L559.9 1076.8 L561 1076 L562.1 1075.2 L563.2 1074.4 L564.3 1073.6 L565.4 1072.8 L566.5 1072 L567.6 1071.2 L568.7 1070.3 L569.8 1069.5 L570.9 1068.7 L572 1067.9 L573.1 1067 L574.2 1066.2 L575.3 1065.3 L576.4 1064.5 L577.5 1063.6 L578.6 1062.7 L579.7 1061.9 L580.8 1061 L581.9 1060.1 L583.1 1059.3 L584.2 1058.4 L585.3 1057.5 L586.4 1056.6 L587.5 1055.7 L588.6 1054.8 L589.7 1053.9 L590.8 1053 L591.9 1052.1 L593 1051.2 L594.1 1050.3 L595.2 1049.4 L596.3 1048.5 L597.4 1047.5 L598.5 1046.6 L599.6 1045.7 L600.7 1044.7 L601.8 1043.8 L602.9 1042.8 L604 1041.9 L605.1 1040.9 L606.2 1040 L607.3 1039 L608.4 1038.1 L609.5 1037.1 L610.6 1036.1 L611.7 1035.2 L612.8 1034.2 L613.9 1033.2 L615 1032.2 L616.1 1031.3 L617.3 1030.3 L618.4 1029.3 L619.5 1028.3 L620.6 1027.3 L621.7 1026.3 L622.8 1025.3 L623.9 1024.3 L625 1023.3 L626.1 1022.3 L627.2 1021.3 L628.3 1020.2 L629.4 1019.2 L630.5 1018.2 L631.6 1017.2 L632.7 1016.2 L633.8 1015.1 L634.9 1014.1 L636 1013.1 L637.1 1012 L638.2 1011 L639.3 1009.9 L640.4 1008.9 L641.5 1007.8 L642.6 1006.8 L643.7 1005.7 L644.8 1004.7 L645.9 1003.6 L647 1002.5 L648.1 1001.5 L649.2 1000.4 L650.4 999.4 L651.5 998.3 L652.6 997.2 L653.7 996.1 L654.8 995.1 L655.9 994 L657 992.9 L658.1 991.8 L659.2 990.7 L660.3 989.6 L661.4 988.5 L662.5 987.5 L663.6 986.4 L664.7 985.3 L665.8 984.2 L666.9 983.1 L668 982 L669.1 980.9 L670.2 979.8 L671.3 978.7 L672.4 977.5 L673.5 976.4 L674.6 975.3 L675.7 974.2 L676.8 973.1 L677.9 972 L679 970.9 L680.1 969.7 L681.2 968.6 L682.4 967.5 L683.5 966.4 L684.6 965.2 L685.7 964.1 L686.8 963 L687.9 961.9 L689 960.7 L690.1 959.6 L691.2 958.5 L692.3 957.3 L693.4 956.2 L694.5 955.1 L695.6 953.9 L696.7 952.8 L697.8 951.6 L698.9 950.5 L700 949.4 L701.1 948.2 L702.2 947.1 L703.3 945.9 L704.4 944.8 L705.5 943.6 L706.6 942.5 L707.7 941.4 L708.8 940.2 L709.9 939.1 L711 937.9 L712.1 936.8 L713.2 935.6 L714.3 934.5 L715.4 933.3 L716.6 932.2 L717.7 931 L718.8 929.9 L719.9 928.7 L721 927.5 L722.1 926.4 L723.2 925.2 L724.3 924.1 L725.4 922.9 L726.5 921.8 L727.6 920.6 L728.7 919.5 L729.8 918.3 L730.9 917.2 L732 916" stroke="#ff0000" stroke-width="2.2" fill="none"/>
</g>
<g id="pc">
<rect x="902.0" y="77.8" width="684.5" height="1022.7" fill="none" stroke="#383838" stroke-width="1.8"/>
<path d="M902.0 155.3h10M1586.5 155.3h-10M902.0 266.6h10M1586.5 266.6h-10M902.0 377.9h10M1586.5 377.9h-10M902.0 489.1h10M1586.5 489.1h-10M902.0 600.4h10M1586.5 600.4h-10M902.0 711.7h10M1586.5 711.7h-10M902.0 823h10M1586.5 823h-10M902.0 934.3h10M1586.5 934.3h-10M902.0 1045.5h10M1586.5 1045.5h-10M1016.1 1100.5v-10M1016.1 77.8v10M1301.3 1100.5v-10M1301.3 77.8v10" stroke="#383838" stroke-width="1.8" fill="none"/>
<clipPath id="cpc"><rect x="900.5" y="57.8" width="687.5" height="1045.7"/></clipPath>
<g clip-path="url(#cpc)" fill="none" stroke-width="3" stroke-linejoin="round" stroke-linecap="round">
<path d="M901 151.7 L902.3 150.6 L904 149 L906.1 147.2 L908.4 145.2 L910.6 143.1 L912.8 141 L914.9 138.9 L917 136.6 L919.1 134.3 L921.2 131.9 L923.4 129.5 L925.5 127.2 L927.6 124.8 L929.8 122.4 L931.9 119.9 L934 117.5 L936.2 115.3 L938.3 113.4 L940.4 111.7 L942.5 110.3 L944.5 109 L946.6 107.9 L948.8 106.9 L951 106 L953.4 105.2 L955.9 104.6 L958.5 104 L961.1 103.6 L963.6 103.4 L966 103.2 L968.3 103.2 L970.5 103.3 L972.6 103.5 L974.7 103.8 L976.7 104.3 L978.7 104.9 L980.6 105.6 L982.5 106.5 L984.3 107.4 L986.1 108.5 L987.8 109.8 L989.4 111.3 L990.9 113 L992.4 114.9 L993.8 117 L995.1 119.2 L996.5 121.6 L997.9 124 L999.3 126.6 L1000.7 129.3 L1002.1 132.1 L1003.6 135 L1005 138 L1006.4 141 L1007.8 144.1 L1009.2 147.3 L1010.6 150.6 L1012.1 153.9 L1013.5 157.1 L1014.9 160.2 L1016.3 163.2 L1017.7 166.1 L1019 169 L1020.4 171.9 L1021.9 174.6 L1023.4 177.2 L1025 179.7 L1026.6 182.2 L1028.3 184.5 L1030.1 186.7 L1032 188.9 L1034 191 L1036.2 193 L1038.5 195 L1040.8 196.9 L1043.4 198.6 L1046.1 200.3 L1049 201.7 L1052 202.9 L1055.1 204 L1058.4 204.9 L1062 205.6 L1065.8 206.3 L1070 207 L1074.5 207.6 L1079.1 208.2 L1084 208.6 L1089.4 209 L1095.3 209.3 L1102 209.6 L1109.2 209.8 L1116.9 209.8 L1125.2 209.8 L1134.2 209.8 L1144.1 209.8 L1155 209.8 L1167.3 209.9 L1181 210 L1195.5 210.2 L1210.5 210.3 L1225.5 210.4 L1240 210.5 L1254.7 210.5 L1269.9 210.5 L1285.2 210.5 L1299.9 210.4 L1313.4 210.3 L1325.1 210.2 L1334.8 210.1 L1342.8 209.9 L1349.7 209.8 L1355.9 209.6 L1361.7 209.4 L1367.7 209.1 L1373.8 208.8 L1379.6 208.5 L1385.1 208.2 L1390.3 207.8 L1395.1 207.4 L1399.6 207 L1403.6 206.6 L1407.1 206.2 L1410.3 205.9 L1413.3 205.4 L1416 204.7 L1418.7 203.8 L1421.3 202.6 L1423.7 201.3 L1425.9 199.8 L1427.9 198.1 L1429.8 196.3 L1431.5 194.3 L1433 192.3 L1434.2 190.1 L1435.2 187.9 L1436.2 185.4 L1437 182.6 L1437.9 179.4 L1438.7 175.8 L1439.5 172 L1440.1 167.8 L1440.8 163.4 L1441.4 158.7 L1442.1 153.8 L1442.8 148.4 L1443.6 142.3 L1444.3 136.1 L1445 129.9 L1445.7 124.4 L1446.4 119.8 L1447 116.2 L1447.6 113.2 L1448.1 110.9 L1448.6 108.9 L1449.1 107.4 L1449.6 106 L1450.1 105 L1450.5 104.4 L1450.9 104.1 L1451.3 104.1 L1451.7 104.3 L1452.1 104.5 L1452.5 104.7 L1453 104.9 L1453.4 105.2 L1453.9 105.9 L1454.3 107.2 L1454.9 109.1 L1455.5 111.9 L1456.2 115.5 L1456.9 119.7 L1457.6 124.1 L1458.4 128.5 L1459.1 132.6 L1459.8 136.6 L1460.5 140.6 L1461.2 144.7 L1461.9 148.7 L1462.6 152.5 L1463.4 156 L1464.2 159.3 L1465 162.3 L1465.9 165.2 L1466.7 167.9 L1467.7 170.5 L1468.7 173 L1469.7 175.4 L1470.8 177.7 L1471.9 179.8 L1473.1 181.9 L1474.5 183.8 L1476.2 185.7 L1478.2 187.6 L1480.3 189.4 L1482.7 191.1 L1485.2 192.7 L1488 194.1 L1491.1 195.3 L1494.5 196.3 L1498.3 197.1 L1502.3 197.7 L1506.4 198.1 L1510.5 198.4 L1514.5 198.5 L1518.4 198.4 L1522.4 198.1 L1526.3 197.6 L1530.3 197 L1534.1 196.2 L1537.9 195.3 L1541.6 194.3 L1545.3 193.1 L1548.9 191.8 L1552.4 190.4 L1555.8 188.7 L1559.1 186.8 L1562.3 184.6 L1565.3 182 L1568.3 179.2 L1571.1 176.3 L1573.8 173.5 L1576.2 170.9 L1578.5 168.3 L1580.6 165.6 L1582.6 163 L1584.3 160.5 L1585.7 158.5 L1586.8 157" stroke="#ff0000"/>
<path d="M901 253.8 L902.2 252.6 L903.9 250.8 L906 248.8 L908.2 246.6 L910.5 244.3 L912.8 242.1 L915.1 239.9 L917.5 237.4 L920.1 235 L922.6 232.5 L925.2 230.3 L927.7 228.3 L930.2 226.6 L932.7 225 L935.2 223.6 L937.6 222.4 L940.1 221.3 L942.6 220.4 L945.1 219.7 L947.5 219.1 L950 218.7 L952.5 218.4 L954.9 218.3 L957.4 218.3 L959.9 218.4 L962.4 218.6 L965 219 L967.5 219.5 L969.9 220.1 L972.3 220.9 L974.6 221.7 L976.8 222.7 L979 223.7 L981.1 224.9 L983.1 226.5 L985.1 228.3 L987 230.5 L988.8 233.1 L990.5 235.9 L992.2 239 L994 242.1 L995.7 245.3 L997.5 248.6 L999.3 252.1 L1001.1 255.7 L1002.8 259.3 L1004.6 263 L1006.4 266.6 L1008.2 270.2 L1009.9 273.9 L1011.7 277.7 L1013.5 281.3 L1015.2 284.7 L1017 287.9 L1018.7 290.8 L1020.3 293.5 L1022 296 L1023.7 298.4 L1025.6 300.6 L1027.7 302.8 L1030.1 304.9 L1032.6 306.8 L1035.3 308.7 L1038.2 310.4 L1041.3 312 L1044.7 313.4 L1048.2 314.6 L1051.9 315.7 L1055.7 316.6 L1060 317.4 L1064.7 318.1 L1070 318.7 L1075 319.2 L1079.5 319.6 L1084.4 319.8 L1090.9 320.1 L1100 320.2 L1112.8 320.4 L1131.2 320.6 L1154.6 320.7 L1180.7 320.8 L1206.9 320.9 L1230.9 320.9 L1250 320.9 L1264 320.9 L1274.9 320.8 L1283.5 320.7 L1290.6 320.5 L1297.1 320.4 L1303.8 320.2 L1310.5 320 L1316.5 319.9 L1321.9 319.7 L1326.8 319.5 L1331.4 319.2 L1335.7 318.7 L1339.7 318.1 L1343.4 317.4 L1346.6 316.6 L1349.6 315.7 L1352.3 314.6 L1354.9 313.4 L1357.2 312.1 L1359.2 310.7 L1361 309.1 L1362.6 307.3 L1364.1 305.2 L1365.5 302.8 L1366.8 300 L1368 296.9 L1369.1 293.5 L1370.1 289.8 L1371 285.8 L1371.9 281.5 L1372.8 276.8 L1373.5 271.7 L1374.2 266.2 L1374.9 260.6 L1375.6 255 L1376.2 249.6 L1376.8 244 L1377.4 238.2 L1377.9 232.4 L1378.5 226.8 L1378.9 221.8 L1379.4 217.7 L1379.8 214.4 L1380.2 211.7 L1380.5 209.5 L1380.8 207.9 L1381.2 206.7 L1381.5 206 L1381.8 205.6 L1382.2 205.5 L1382.5 205.9 L1382.8 206.9 L1383.2 208.7 L1383.6 211.3 L1384.1 215.1 L1384.5 219.9 L1385.1 225.5 L1385.6 231.4 L1386.2 237.5 L1386.8 243.2 L1387.4 248.9 L1388.1 254.8 L1388.8 260.9 L1389.5 266.7 L1390.3 272.2 L1391.1 277.2 L1392 281.6 L1392.8 285.6 L1393.7 289.2 L1394.7 292.5 L1396 295.6 L1397.4 298.5 L1398.9 301.2 L1400.5 303.7 L1402.2 305.9 L1404.3 307.9 L1406.9 309.7 L1410.2 311.3 L1414.3 312.7 L1419 313.8 L1424.3 314.7 L1430 315.4 L1435.9 316 L1442.1 316.6 L1448.6 317.1 L1455.5 317.5 L1462.7 317.8 L1470.1 317.9 L1477.5 317.9 L1484.7 317.7 L1492 317.4 L1499.4 316.9 L1506.9 316.3 L1514.1 315.5 L1521 314.5 L1527.2 313.4 L1532.8 312.1 L1537.9 310.6 L1542.6 308.9 L1547 307 L1551.1 305 L1554.9 302.8 L1558.4 300.4 L1561.5 298 L1564.3 295.3 L1566.9 292.4 L1569.4 289.2 L1571.9 285.7 L1574.5 281.4 L1577.2 276.3 L1579.9 270.8 L1582.2 265.6 L1584.2 261.2 L1585.7 258.1" stroke="#ff00ff"/>
<path d="M901 353.6 L902.2 352.5 L903.9 351.1 L906 349.4 L908.2 347.5 L910.5 345.7 L912.8 344 L915.1 342.4 L917.5 340.8 L920.1 339.1 L922.6 337.6 L925.2 336.2 L927.7 335.1 L930.2 334.2 L932.6 333.6 L935 333.1 L937.5 332.7 L940 332.5 L942.6 332.3 L945.4 332.2 L948.3 332.3 L951.2 332.4 L954.2 332.7 L957 333 L959.6 333.4 L962 333.9 L964.2 334.4 L966.3 335 L968.4 335.8 L970.3 336.6 L972.3 337.7 L974.2 338.9 L976.1 340.3 L977.9 341.8 L979.7 343.5 L981.4 345.3 L983 347.2 L984.5 349.2 L985.9 351.2 L987.3 353.4 L988.6 355.8 L990 358.3 L991.5 361.1 L993.1 364.2 L994.9 367.7 L996.7 371.4 L998.5 375.1 L1000.3 378.8 L1002.1 382.3 L1003.9 385.7 L1005.6 389 L1007.3 392.3 L1009.1 395.5 L1010.9 398.6 L1012.8 401.5 L1014.7 404.3 L1016.6 407 L1018.6 409.5 L1020.7 412 L1023 414.3 L1025.5 416.4 L1028.3 418.4 L1031.2 420.2 L1034.3 421.9 L1037.6 423.4 L1041.1 424.8 L1044.7 426 L1048.4 427 L1052.1 427.9 L1056 428.6 L1060.2 429.2 L1064.9 429.7 L1070.2 430.2 L1076.1 430.7 L1082.3 431.1 L1089.1 431.5 L1096.4 431.8 L1104.3 432.1 L1112.8 432.3 L1122.2 432.5 L1132.5 432.6 L1143.4 432.7 L1154.6 432.8 L1165.7 432.8 L1176.6 432.8 L1187.7 432.7 L1199.3 432.6 L1211 432.5 L1222 432.3 L1231.9 432.1 L1240 431.9 L1246 431.7 L1250.4 431.5 L1253.5 431.3 L1256.1 431 L1258.5 430.6 L1261.3 430.2 L1264.5 429.7 L1267.6 429.3 L1270.5 428.7 L1273.3 428 L1275.9 427.2 L1278.3 426 L1280.4 424.6 L1282.2 423.1 L1283.8 421.4 L1285.3 419.3 L1286.6 417 L1287.9 414.3 L1289 411.2 L1290 407.9 L1290.9 404.3 L1291.7 400.2 L1292.5 395.8 L1293.2 390.9 L1293.9 385.2 L1294.6 378.8 L1295.2 371.9 L1295.8 365 L1296.4 358.4 L1297 352.6 L1297.6 347.3 L1298.1 342.3 L1298.6 337.6 L1299.1 333.4 L1299.6 329.9 L1300 327 L1300.4 325 L1300.6 323.8 L1300.9 323.3 L1301.2 323.1 L1301.4 323.1 L1301.7 323.2 L1302 323.1 L1302.3 322.9 L1302.7 323 L1303 323.5 L1303.4 324.8 L1303.8 327 L1304.3 330.4 L1304.7 334.7 L1305.3 339.7 L1305.8 345.3 L1306.4 351 L1307 356.8 L1307.6 362.9 L1308.2 369.5 L1308.9 376.4 L1309.6 383.1 L1310.4 389.5 L1311.3 395.1 L1312.2 400 L1313.2 404.5 L1314.2 408.5 L1315.4 412.2 L1316.9 415.5 L1318.7 418.5 L1320.8 421.1 L1323.1 423.3 L1325.7 425.1 L1328.6 426.6 L1331.9 427.9 L1335.7 429.1 L1339.8 430 L1344.1 430.6 L1348.8 431 L1354.1 431.3 L1360.4 431.5 L1367.7 431.7 L1376.5 431.9 L1386.6 432.1 L1397.6 432.3 L1409.1 432.4 L1420.5 432.4 L1431.5 432.3 L1442.5 432.1 L1453.9 431.9 L1465.4 431.6 L1476.4 431.2 L1486.5 430.7 L1495.3 430.2 L1502.6 429.7 L1508.7 429.1 L1513.9 428.4 L1518.5 427.7 L1522.9 426.9 L1527.2 426 L1531.4 425 L1535.3 423.9 L1538.9 422.8 L1542.3 421.5 L1545.4 420.1 L1548.5 418.5 L1551.4 416.7 L1554.1 414.8 L1556.6 412.7 L1559 410.5 L1561.2 408.1 L1563.4 405.7 L1565.4 403.1 L1567.3 400.4 L1569.1 397.6 L1570.8 394.7 L1572.4 391.7 L1574 388.7 L1575.6 385.6 L1577.1 382.3 L1578.6 379 L1580.1 375.7 L1581.4 372.5 L1582.6 369.6 L1583.7 366.8 L1584.8 364.1 L1585.8 361.5 L1586.6 359.1 L1587.4 357.2 L1587.9 355.7" stroke="#0000ff"/>
<path d="M901 453.6 L902 453.4 L903.3 453.1 L904.9 452.7 L906.7 452.4 L908.6 452.2 L910.6 452.1 L912.8 452.3 L915.1 452.6 L917.6 453 L920.2 453.4 L922.8 453.9 L925.5 454.3 L928.2 454.7 L931 455.1 L933.8 455.5 L936.7 455.9 L939.6 456.2 L942.6 456.4 L945.8 456.4 L949.1 456.2 L952.6 456 L955.9 455.7 L959 455.6 L961.7 455.7 L964 455.9 L965.9 456.3 L967.5 456.7 L969.1 457.3 L970.6 458 L972.3 458.9 L974.1 459.9 L975.9 461 L977.6 462.3 L979.4 463.7 L981.2 465.4 L983 467.4 L984.8 469.8 L986.5 472.5 L988.3 475.4 L990.1 478.5 L991.8 481.6 L993.6 484.5 L995.4 487.4 L997.1 490.3 L998.8 493.1 L1000.6 496 L1002.4 498.8 L1004.3 501.5 L1006.3 504.1 L1008.2 506.7 L1010.3 509.2 L1012.4 511.7 L1014.6 514.1 L1017 516.4 L1019.5 518.7 L1022 521 L1024.7 523.2 L1027.5 525.3 L1030.6 527.3 L1034 529.1 L1037.7 530.7 L1041.7 532.1 L1045.9 533.4 L1050.3 534.6 L1054.9 535.7 L1059.6 536.6 L1064.6 537.4 L1069.8 538.1 L1075.2 538.7 L1080.6 539.1 L1086.1 539.5 L1091.5 539.8 L1096.9 540 L1102.5 540.1 L1108.1 540.1 L1113.6 540.1 L1118.7 540 L1123.4 539.8 L1127.6 539.6 L1131.5 539.4 L1135.1 539.1 L1138.5 538.8 L1141.6 538.3 L1144.7 537.7 L1147.6 537 L1150.4 536.1 L1153 535.2 L1155.4 534.1 L1157.6 532.8 L1159.6 531.3 L1161.3 529.7 L1162.7 527.9 L1163.9 526 L1165 523.8 L1166 521.3 L1167 518.5 L1168 515.3 L1169 511.8 L1169.9 508 L1170.7 503.9 L1171.5 499.6 L1172.3 495.1 L1173 490.1 L1173.8 484.4 L1174.4 478.5 L1175.1 472.7 L1175.6 467.5 L1176.2 463.2 L1176.7 459.7 L1177.1 456.7 L1177.5 454.3 L1177.9 452.4 L1178.3 451.1 L1178.7 450.4 L1179.1 450.3 L1179.5 450.8 L1179.9 451.8 L1180.3 453.5 L1180.8 455.9 L1181.3 458.9 L1181.8 462.9 L1182.4 468 L1183 473.7 L1183.7 479.7 L1184.4 485.5 L1185.1 490.9 L1185.8 495.9 L1186.6 500.8 L1187.4 505.6 L1188.3 510.2 L1189.3 514.6 L1190.4 518.5 L1191.6 522.1 L1192.9 525.3 L1194.3 528.3 L1195.9 531 L1197.8 533.4 L1200 535.5 L1202.5 537.2 L1205.2 538.6 L1208.2 539.6 L1211.5 540.5 L1215.1 541.2 L1219.1 541.9 L1222.8 542.5 L1226.1 543 L1229.7 543.3 L1234.4 543.6 L1240.9 543.8 L1250 544 L1262.2 544.2 L1276.9 544.3 L1293.5 544.4 L1311.1 544.5 L1329 544.5 L1346.4 544.5 L1364.3 544.5 L1383.5 544.5 L1403 544.4 L1421.7 544.3 L1438.6 544.2 L1452.8 544 L1463.8 543.8 L1472.2 543.6 L1479 543.4 L1484.6 543.1 L1489.8 542.8 L1495.3 542.3 L1500.9 541.7 L1506.1 541.1 L1510.9 540.4 L1515.3 539.6 L1519.3 538.7 L1523 537.7 L1526.2 536.6 L1529 535.4 L1531.4 534 L1533.6 532.6 L1535.7 530.9 L1537.9 529.1 L1540.2 526.9 L1542.4 524.4 L1544.5 521.8 L1546.6 519.1 L1548.6 516.5 L1550.6 514.3 L1552.5 512.3 L1554.3 510.4 L1556.1 508.7 L1557.8 507.2 L1559.5 505.8 L1561.3 504.7 L1563.1 503.9 L1564.9 503.3 L1566.7 502.9 L1568.5 502.7 L1570.3 502.6 L1571.9 502.6 L1573.4 502.7 L1574.9 502.9 L1576.3 503.3 L1577.7 503.8 L1579.1 504.2 L1580.4 504.7 L1581.8 505.2 L1583.3 505.8 L1584.7 506.4 L1586 507 L1587.1 507.5 L1587.9 507.9" stroke="#0a5cb3"/>
<path d="M901 577.7 L902.2 578.2 L903.9 578.8 L905.8 579.6 L908 580.5 L910.4 581.2 L912.8 581.9 L915.3 582.5 L918.1 583.2 L921 583.8 L923.9 584.2 L926.9 584.5 L929.8 584.5 L932.6 584.1 L935.3 583.5 L938 582.6 L940.8 581.7 L943.7 580.7 L946.8 579.8 L950.2 578.9 L954 577.8 L957.9 576.7 L961.6 575.7 L965.1 574.9 L968.1 574.5 L970.5 574.4 L972.3 574.5 L973.9 574.8 L975.4 575.5 L976.9 576.4 L978.7 577.7 L980.7 579.5 L982.7 581.6 L984.8 584.2 L987 586.9 L989.2 589.7 L991.5 592.6 L993.8 595.6 L996.2 598.8 L998.7 602.2 L1001.2 605.5 L1003.8 608.7 L1006.4 611.7 L1009.1 614.5 L1012 617.3 L1014.9 619.9 L1017.8 622.4 L1020.7 624.7 L1023.4 626.6 L1026 628.2 L1028.5 629.6 L1031 630.7 L1033.4 631.6 L1035.8 632.3 L1038.3 633 L1040.8 633.5 L1043.3 633.9 L1045.8 634.2 L1048.2 634.3 L1050.7 634.2 L1053.2 634 L1055.7 633.7 L1058.2 633.3 L1060.8 632.7 L1063.3 631.9 L1065.7 631 L1068.1 629.8 L1070.4 628.4 L1072.7 626.8 L1074.9 625 L1077 623 L1079 620.7 L1080.9 618.1 L1082.6 615.1 L1084.2 611.6 L1085.6 607.9 L1087 604.1 L1088.2 600.3 L1089.4 596.8 L1090.5 593.3 L1091.4 589.8 L1092.3 586.3 L1093.1 583 L1093.9 580.1 L1094.7 577.7 L1095.5 575.8 L1096.2 574.2 L1096.9 572.9 L1097.5 572 L1098.2 571.5 L1098.9 571.3 L1099.6 571.4 L1100.3 571.7 L1101 572.4 L1101.7 573.5 L1102.4 575.3 L1103.2 577.7 L1104 581.1 L1104.9 585.4 L1105.7 590.3 L1106.6 595.5 L1107.5 600.6 L1108.5 605.3 L1109.5 609.8 L1110.4 614.4 L1111.4 618.9 L1112.4 623.2 L1113.6 627.3 L1114.9 630.9 L1116.3 634.1 L1117.8 636.9 L1119.4 639.4 L1121.2 641.7 L1123.2 643.8 L1125.5 645.7 L1128.1 647.4 L1130.8 648.9 L1133.8 650.2 L1137 651.4 L1140.7 652.3 L1144.7 653.2 L1148.8 653.9 L1152.9 654.4 L1157.3 654.7 L1162.4 654.9 L1168.7 655.1 L1176.6 655.3 L1185.2 655.5 L1194 655.6 L1203.9 655.7 L1216 655.8 L1231 655.9 L1250 655.9 L1275.5 655.9 L1307.2 655.9 L1342 655.9 L1376.5 655.8 L1407.4 655.8 L1431.5 655.7 L1448.1 655.6 L1459.7 655.5 L1467.7 655.4 L1473.6 655.3 L1478.8 655.1 L1484.7 654.9 L1490.9 654.7 L1496.3 654.5 L1500.9 654.3 L1505 654 L1508.7 653.6 L1512.3 653.2 L1515.5 652.7 L1518.1 652 L1520.4 651.3 L1522.5 650.6 L1524.7 649.8 L1527.2 648.9 L1530 647.9 L1533.1 646.7 L1536.2 645.4 L1539.2 644.3 L1541.9 643.3 L1544.3 642.6 L1546.2 642.3 L1547.6 642.2 L1548.8 642.3 L1550 642.5 L1551.2 642.8 L1552.8 643.2 L1554.6 643.6 L1556.4 644.2 L1558.4 644.9 L1560.6 645.6 L1562.9 646.3 L1565.5 646.8 L1568.7 647.3 L1572.4 647.7 L1576.4 648.1 L1580.2 648.4 L1583.4 648.7 L1585.7 648.9" stroke="#00ffff"/>
<path d="M901 713.8 L902.2 714 L903.8 714.3 L905.7 714.7 L907.9 715 L910.3 715.1 L912.8 714.9 L915.5 714.5 L918.5 713.9 L921.8 713.1 L925.1 712.2 L928.5 711 L931.9 709.6 L935.3 707.9 L938.8 705.8 L942.4 703.5 L946 701.1 L949.6 698.8 L953.2 696.8 L956.8 694.9 L960.5 692.9 L964.3 691 L967.9 689.3 L971.3 688 L974.5 687.2 L977.3 686.9 L979.9 687 L982.2 687.4 L984.5 688.1 L986.9 689.2 L989.4 690.4 L992.1 692.1 L995 694.2 L998 696.6 L1000.9 699.1 L1003.7 701.4 L1006.4 703.2 L1008.9 704.7 L1011.2 706.2 L1013.5 707.5 L1015.7 708.4 L1017.9 709 L1020.2 709.1 L1022.5 708.7 L1024.8 707.8 L1027.2 706.5 L1029.5 704.9 L1031.8 703.1 L1034 701.1 L1036.3 698.7 L1038.6 695.9 L1040.9 692.8 L1043.1 689.8 L1045.1 687.1 L1046.8 685.1 L1048.1 683.8 L1049.1 682.9 L1049.8 682.3 L1050.5 682.1 L1051.2 682.1 L1052.1 682.3 L1053.1 682.6 L1054.2 683 L1055.2 683.7 L1056.3 684.7 L1057.4 686.2 L1058.5 688.3 L1059.6 691.2 L1060.6 694.7 L1061.6 698.8 L1062.7 703.1 L1063.8 707.5 L1064.9 711.7 L1066 715.9 L1067.2 720.4 L1068.3 724.8 L1069.6 729.2 L1070.9 733.4 L1072.3 737.2 L1073.8 740.6 L1075.3 743.8 L1076.9 746.8 L1078.7 749.5 L1080.7 752 L1083 754.3 L1085.5 756.4 L1088.3 758.3 L1091.2 759.9 L1094.5 761.4 L1098.1 762.7 L1102.1 763.8 L1105.7 764.7 L1108.7 765.3 L1112 765.8 L1116.7 766.1 L1123.7 766.3 L1134 766.6 L1147.5 766.8 L1163.2 766.9 L1181.3 767 L1201.8 767 L1224.7 767 L1250 767 L1280.6 767 L1317.1 767 L1356 766.9 L1393.9 766.8 L1427.3 766.7 L1452.8 766.6 L1469.5 766.5 L1479.8 766.3 L1485.7 766.1 L1489 765.9 L1491.5 765.6 L1495.3 765.3 L1499.7 764.9 L1503.1 764.5 L1505.8 764 L1508 763.4 L1510.1 762.9 L1512.3 762.3 L1514.5 761.7 L1516.4 761 L1518.2 760.3 L1519.8 759.7 L1521.4 759 L1523 758.5 L1524.5 758 L1525.9 757.5 L1527.3 757.1 L1528.6 756.7 L1530 756.5 L1531.5 756.4 L1533.1 756.5 L1534.8 756.7 L1536.5 757.1 L1538.3 757.6 L1540.2 758 L1542.1 758.5 L1544.1 759 L1546.1 759.5 L1548.2 760.1 L1550.4 760.7 L1552.6 761.3 L1554.9 761.7 L1557.3 762.1 L1559.7 762.4 L1562.2 762.7 L1564.7 762.9 L1567.2 763.1 L1569.8 763.2 L1572.6 763.2 L1575.6 763.2 L1578.7 763.1 L1581.5 763 L1584 762.9 L1585.7 762.8" stroke="#007a00"/>
<path d="M901 840.2 L902.7 839.9 L905.1 839.5 L907.9 839.1 L911 838.5 L914.1 837.8 L917 837 L919.8 836.1 L922.6 835.1 L925.4 834 L928.3 832.7 L931.1 831.3 L934 829.6 L936.9 827.7 L939.8 825.4 L942.7 823.1 L945.6 820.6 L948.4 818.1 L951.1 815.7 L953.7 813.3 L956.3 810.9 L958.8 808.4 L961.3 806 L963.7 803.8 L966 801.9 L968.3 800.2 L970.5 798.7 L972.6 797.4 L974.7 796.3 L976.7 795.3 L978.7 794.5 L980.6 793.9 L982.4 793.6 L984.2 793.4 L985.9 793.3 L987.6 793.3 L989.4 793.4 L991.2 793.6 L992.9 793.9 L994.7 794.4 L996.5 794.8 L998.2 795 L1000 795.1 L1001.8 794.9 L1003.6 794.5 L1005.4 793.9 L1007.2 793.3 L1009 792.8 L1010.6 792.3 L1012.2 791.9 L1013.7 791.4 L1015.1 791 L1016.5 790.6 L1017.8 790.4 L1019.1 790.2 L1020.3 790.1 L1021.4 789.9 L1022.4 789.8 L1023.4 790 L1024.5 790.4 L1025.5 791.3 L1026.6 792.7 L1027.6 794.4 L1028.7 796.5 L1029.8 798.9 L1030.8 801.4 L1031.9 804 L1032.9 806.8 L1034 809.8 L1035 812.9 L1036 816.2 L1037.1 819.7 L1038.3 823.2 L1039.6 826.9 L1040.9 830.9 L1042.3 835 L1043.7 839.1 L1045.2 843 L1046.8 846.6 L1048.4 849.9 L1049.9 853 L1051.6 855.9 L1053.3 858.6 L1055.2 861.2 L1057.4 863.6 L1059.8 865.8 L1062.2 867.9 L1064.9 869.8 L1067.8 871.5 L1071 873 L1074.5 874.3 L1078.2 875.4 L1082 876.2 L1086 876.8 L1090.6 877.3 L1095.9 877.7 L1102.1 878.1 L1109 878.4 L1116.4 878.6 L1124.5 878.7 L1133.5 878.8 L1143.7 878.8 L1155.3 878.9 L1167.7 879 L1180.6 879 L1194.6 879 L1210.5 879 L1228.7 878.9 L1250 878.9 L1276.8 878.9 L1309.2 878.8 L1344 878.8 L1378.1 878.7 L1408.3 878.6 L1431.5 878.5 L1446.9 878.4 L1456.7 878.3 L1462.8 878.1 L1466.6 877.9 L1469.8 877.7 L1474 877.4 L1478.9 877 L1483.1 876.7 L1486.6 876.2 L1489.8 875.7 L1492.6 875.1 L1495.3 874.3 L1497.7 873.3 L1499.6 872.1 L1501.2 870.9 L1502.7 869.5 L1504.2 868.1 L1506 866.8 L1508 865.4 L1510.2 863.8 L1512.3 862.2 L1514.5 860.7 L1516.7 859.6 L1518.7 858.9 L1520.6 858.7 L1522.3 859 L1524.1 859.5 L1525.8 860.3 L1527.5 861.1 L1529.4 861.9 L1531.4 862.8 L1533.5 863.8 L1535.6 865 L1537.8 866.1 L1540 867.1 L1542.1 867.9 L1544.2 868.5 L1546.2 868.9 L1548.2 869.2 L1550.3 869.4 L1552.5 869.6 L1554.9 869.6 L1557.5 869.5 L1560.4 869.3 L1563.3 869 L1566.3 868.6 L1569.2 868.2 L1571.9 867.9 L1574.5 867.6 L1577.2 867.3 L1579.9 866.9 L1582.2 866.6 L1584.2 866.4 L1585.7 866.2" stroke="#ffd400"/>
<path d="M901 953 L902.7 952.6 L905 952.1 L907.8 951.5 L910.8 950.8 L914 949.8 L917 948.7 L920 947.4 L923.2 946 L926.4 944.3 L929.7 942.5 L933 940.4 L936.2 938.1 L939.4 935.3 L942.7 932.2 L945.9 928.8 L949.1 925.3 L952.2 922 L955.3 918.9 L958.3 916.1 L961.1 913.3 L963.9 910.6 L966.7 908.1 L969.5 905.9 L972.3 904 L975.1 902.5 L977.8 901.4 L980.6 900.6 L983.4 900 L986.3 899.4 L989.4 898.7 L992.8 897.9 L996.6 897.2 L1000.5 896.4 L1004.3 895.9 L1007.8 895.5 L1010.6 895.5 L1012.8 895.8 L1014.4 896.2 L1015.6 896.9 L1016.7 897.8 L1017.8 899.2 L1019.1 900.9 L1020.5 903.1 L1022 905.7 L1023.4 908.6 L1024.8 911.9 L1026.3 915.3 L1027.7 918.9 L1029.1 922.8 L1030.5 927 L1031.8 931.4 L1033.2 935.8 L1034.7 940.3 L1036.2 944.5 L1037.8 948.6 L1039.4 952.8 L1041.1 956.9 L1042.9 960.9 L1044.8 964.6 L1046.8 967.9 L1048.9 970.8 L1051.1 973.5 L1053.3 975.9 L1055.8 978 L1058.6 979.9 L1061.7 981.7 L1065.1 983.3 L1068.6 984.6 L1072.5 985.7 L1076.7 986.6 L1081.6 987.4 L1087.2 988.1 L1093 988.7 L1098.7 989 L1104.9 989.2 L1112.5 989.4 L1121.9 989.5 L1134 989.6 L1149.1 989.7 L1166.7 989.7 L1186.2 989.7 L1207.1 989.6 L1228.5 989.6 L1250 989.6 L1272.8 989.7 L1297.8 989.9 L1323.4 990 L1348.1 990.2 L1370.4 990.2 L1388.9 990.2 L1403.1 990 L1414.1 989.7 L1422.7 989.4 L1429.7 989 L1435.9 988.5 L1442.1 988.1 L1447.8 987.7 L1452.5 987.4 L1456.3 987 L1459.6 986.6 L1462.6 985.9 L1465.5 984.9 L1468.3 983.6 L1470.7 982.2 L1472.8 980.5 L1474.7 978.6 L1476.5 976.5 L1478.3 974.3 L1480 971.8 L1481.5 969.2 L1482.9 966.3 L1484.2 963.3 L1485.5 960.2 L1486.8 957.2 L1488.2 953.9 L1489.5 950.4 L1490.9 946.8 L1492.2 943.4 L1493.3 940.4 L1494.3 938.1 L1495.1 936.5 L1495.6 935.5 L1496 935 L1496.4 934.7 L1496.9 934.8 L1497.4 934.9 L1498 935.2 L1498.6 935.7 L1499.2 936.4 L1499.9 937.4 L1500.7 938.7 L1501.7 940.2 L1502.8 942.2 L1504.1 944.5 L1505.4 947.2 L1506.9 949.9 L1508.5 952.6 L1510.2 955.1 L1512.1 957.5 L1514.1 959.9 L1516.2 962.2 L1518.4 964.4 L1520.7 966.3 L1523 967.9 L1525.3 969.1 L1527.7 970 L1530.2 970.6 L1532.7 970.9 L1535.3 971.1 L1537.9 971.1 L1540.6 970.9 L1543.5 970.5 L1546.4 969.9 L1549.3 969.1 L1552.2 968 L1554.9 966.8 L1557.6 965.3 L1560.2 963.6 L1562.8 961.7 L1565.2 959.7 L1567.6 957.4 L1569.8 955.1 L1571.9 952.5 L1573.8 949.7 L1575.6 946.7 L1577.3 943.7 L1578.9 940.8 L1580.4 938.1 L1581.8 935.6 L1583.1 933 L1584.3 930.6 L1585.3 928.5 L1586.2 926.6 L1586.8 925.3" stroke="#ff5700"/>
<path d="M901 1065.5 L902.7 1064.8 L905.1 1064 L907.9 1062.9 L911 1061.7 L914.1 1060.3 L917 1058.7 L919.8 1057 L922.6 1055.2 L925.4 1053.2 L928.3 1051 L931.1 1048.6 L934 1046 L936.8 1043 L939.7 1039.6 L942.5 1036 L945.4 1032.4 L948.3 1028.9 L951.1 1025.7 L953.9 1022.7 L956.8 1019.7 L959.6 1016.9 L962.4 1014.2 L965.3 1011.8 L968.1 1009.8 L971 1008.2 L973.9 1006.9 L976.9 1005.9 L979.7 1005.1 L982.5 1004.4 L985.1 1003.8 L987.5 1003.2 L989.8 1002.8 L992 1002.5 L994.1 1002.3 L996.1 1002.2 L997.9 1002.3 L999.6 1002.5 L1001.1 1002.7 L1002.4 1003 L1003.7 1003.5 L1005 1004.4 L1006.4 1005.5 L1007.8 1007 L1009.2 1008.7 L1010.6 1010.8 L1012.1 1013 L1013.5 1015.6 L1014.9 1018.3 L1016.3 1021.3 L1017.7 1024.7 L1019.1 1028.3 L1020.6 1032 L1022 1035.8 L1023.4 1039.6 L1024.8 1043.4 L1026.2 1047.4 L1027.5 1051.4 L1028.9 1055.4 L1030.4 1059.3 L1031.9 1063 L1033.5 1066.5 L1035.2 1069.9 L1036.9 1073.2 L1038.6 1076.4 L1040.6 1079.3 L1042.6 1082.1 L1044.7 1084.7 L1046.9 1087.1 L1049.2 1089.4 L1051.7 1091.5 L1054.4 1093.3 L1057.4 1094.9 L1060.5 1096.2 L1063.5 1097.2 L1066.8 1097.9 L1070.6 1098.6 L1075.2 1099.1 L1080.9 1099.6 L1087.3 1100.1 L1094.1 1100.5 L1101.7 1100.7 L1110.5 1101 L1121.2 1101.1 L1134 1101.3 L1149.7 1101.4 L1167.9 1101.4 L1188 1101.4 L1208.9 1101.4 L1229.8 1101.3 L1250 1101.3 L1270.4 1101.3 L1291.9 1101.4 L1313.4 1101.4 L1334 1101.4 L1352.4 1101.4 L1367.7 1101.3 L1379.4 1101.1 L1388.4 1101 L1395.2 1100.7 L1400.7 1100.5 L1405.5 1100.1 L1410.2 1099.6 L1414.6 1099.1 L1418.1 1098.6 L1420.8 1097.9 L1423.1 1097.2 L1425.2 1096.2 L1427.2 1094.9 L1429.1 1093.3 L1430.8 1091.5 L1432.2 1089.5 L1433.4 1087.3 L1434.6 1084.8 L1435.7 1082.1 L1436.8 1079.1 L1437.8 1075.7 L1438.7 1072.2 L1439.5 1068.4 L1440.3 1064.7 L1441.1 1060.9 L1441.9 1057 L1442.6 1052.8 L1443.3 1048.6 L1443.9 1044.5 L1444.6 1040.7 L1445.3 1037.4 L1446 1034.5 L1446.8 1031.8 L1447.5 1029.4 L1448.2 1027.4 L1448.9 1025.8 L1449.6 1024.7 L1450.2 1024.1 L1450.7 1023.9 L1451.2 1024.1 L1451.7 1024.8 L1452.2 1026.1 L1452.8 1027.9 L1453.4 1030.5 L1454.1 1034 L1454.8 1037.9 L1455.5 1042.1 L1456.2 1046.3 L1457 1050.2 L1457.8 1053.9 L1458.5 1057.6 L1459.3 1061.3 L1460.2 1064.9 L1461.2 1068.3 L1462.3 1071.5 L1463.6 1074.5 L1465 1077.3 L1466.5 1079.9 L1468.1 1082.3 L1469.9 1084.5 L1471.9 1086.4 L1474 1088 L1476.3 1089.3 L1478.8 1090.4 L1481.3 1091.3 L1484 1092.1 L1486.8 1092.8 L1489.7 1093.4 L1492.8 1093.8 L1496 1094.2 L1499.3 1094.4 L1502.6 1094.5 L1506 1094.5 L1509.4 1094.5 L1512.9 1094.4 L1516.5 1094.3 L1520.1 1094 L1523.6 1093.5 L1527.2 1092.8 L1530.8 1091.9 L1534.5 1090.8 L1538.1 1089.5 L1541.7 1088 L1545.2 1086.3 L1548.5 1084.3 L1551.6 1082.1 L1554.6 1079.6 L1557.5 1076.9 L1560.3 1074 L1563 1070.8 L1565.5 1067.2 L1567.9 1063.2 L1570.2 1058.8 L1572.4 1054.1 L1574.5 1049.2 L1576.5 1044.3 L1578.3 1039.6 L1580.1 1034.7 L1581.8 1029.3 L1583.3 1024 L1584.8 1019.1 L1585.9 1014.9 L1586.8 1011.9" stroke="#ff0000"/>
</g>
<g fill="none" stroke="#000" stroke-width="3">
<path d="M1020.2 822.8 L1052.1 711.7 L1098.9 600 L1178.7 488.3 L1301.7 377.7 L1382 266 L1451.7 154.5" stroke-dasharray="12 12"/>
<path d="M1519.4 823.2 L1497 934.5 L1450.6 1045.5" stroke-dasharray="12 12"/>
<path d="M1459 828.8H1125" stroke-dasharray="13 13"/>
</g>
<path d="M1118 828.8L1140 820L1134 828.8L1140 837.6Z" fill="#000"/>
<g fill="none" stroke="#000" stroke-width="2.4">
<circle cx="1451.7" cy="154.5" r="6.3"/>
<circle cx="1382" cy="266" r="6.3"/>
<circle cx="1301.7" cy="377.7" r="6.3"/>
<circle cx="1178.7" cy="488.3" r="6.3"/>
<circle cx="1098.9" cy="600" r="6.3"/>
<circle cx="1052.1" cy="711.7" r="6.3"/>
<circle cx="1020.2" cy="822.8" r="6.3"/>
<circle cx="1519.4" cy="823.2" r="6.3"/>
<circle cx="1497" cy="934.5" r="6.3"/>
<circle cx="1450.6" cy="1045.5" r="6.3"/>
</g>
</g>
<text transform="matrix(0.3745 0 0 0.3369 164.44 236.00)" font-family="Liberation Serif" font-style="italic" font-size="100" fill="#ff0000" stroke="#ff0000" stroke-width="0.53">Z</text>
<text transform="matrix(0.2693 0 0 0.2323 184.73 240.60)" font-family="Liberation Serif" font-style="italic" font-size="100" fill="#ff0000" stroke="#ff0000" stroke-width="0.77">I</text>
<text transform="matrix(0.4409 0 0 0.4565 203.40 242.87)" font-family="Liberation Serif" font-style="normal" font-size="100" fill="#ff0000" stroke="#ff0000" stroke-width="0.41">+</text>
<text transform="matrix(0.3727 0 0 0.3369 236.04 236.00)" font-family="Liberation Serif" font-style="italic" font-size="100" fill="#ff0000" stroke="#ff0000" stroke-width="0.53">Z</text>
<text transform="matrix(0.3085 0 0 0.2323 255.85 240.60)" font-family="Liberation Serif" font-style="italic" font-size="100" fill="#ff0000" stroke="#ff0000" stroke-width="0.77">II</text>
<text transform="matrix(0.3782 0 0 0.3338 574.93 238.00)" font-family="Liberation Serif" font-style="italic" font-size="100" fill="#0000ff" stroke="#0000ff" stroke-width="0.54">Z</text>
<text transform="matrix(0.2693 0 0 0.2338 595.33 242.70)" font-family="Liberation Serif" font-style="italic" font-size="100" fill="#0000ff" stroke="#0000ff" stroke-width="0.77">I</text>
<text transform="matrix(0.3782 0 0 0.3400 294.73 365.00)" font-family="Liberation Serif" font-style="italic" font-size="100" fill="#008000" stroke="#008000" stroke-width="0.53">Z</text>
<text transform="matrix(0.3085 0 0 0.2400 315.15 369.70)" font-family="Liberation Serif" font-style="italic" font-size="100" fill="#008000" stroke="#008000" stroke-width="0.75">II</text>
<text transform="matrix(0.2730 0 0 0.2704 673.26 343.22)" font-family="Liberation Serif" font-style="italic" font-size="100" fill="#262626" stroke="#262626" stroke-width="0.67">&#968;</text>
<text transform="matrix(0.3709 0 0 0.3609 691.90 349.64)" font-family="Liberation Serif" font-style="normal" font-size="100" fill="#262626" stroke="#262626" stroke-width="0.50">/</text>
<text transform="matrix(0.2577 0 0 0.2387 704.17 344.06)" font-family="Liberation Serif" font-style="italic" font-size="100" fill="#262626" stroke="#262626" stroke-width="0.75">&#960;</text>
<text transform="matrix(0 -0.2829 0.2789 0 36.04 318.29)" font-family="Liberation Serif" font-style="normal" font-size="100" fill="#262626" stroke="#262626" stroke-width="0.65">Im(<tspan font-style="italic">Z</tspan>)</text>
<text transform="matrix(0.2472 0 0 0.2156 419.36 676.18)" font-family="Liberation Serif" font-style="italic" font-size="100" fill="#262626" stroke="#262626" stroke-width="0.83">&#948;</text>
<text transform="matrix(0.1916 0 0 0.1908 431.20 679.10)" font-family="Liberation Serif" font-style="italic" font-size="100" fill="#262626" stroke="#262626" stroke-width="0.94">N</text>
<text transform="matrix(0.3062 0 0 0.2641 647.98 891.50)" font-family="Liberation Serif" font-style="normal" font-size="100" fill="#262626" stroke="#262626" stroke-width="0.68">&#916;</text>
<text transform="matrix(0.2889 0 0 0.2336 667.63 891.69)" font-family="Liberation Serif" font-style="italic" font-size="100" fill="#262626" stroke="#262626" stroke-width="0.77">&#966;</text>
<text transform="matrix(0.3455 0 0 0.3624 684.70 897.24)" font-family="Liberation Serif" font-style="normal" font-size="100" fill="#262626" stroke="#262626" stroke-width="0.52">/</text>
<text transform="matrix(0.2519 0 0 0.2301 696.77 891.27)" font-family="Liberation Serif" font-style="italic" font-size="100" fill="#262626" stroke="#262626" stroke-width="0.78">&#960;</text>
<text transform="matrix(0.3625 0 0 0.3591 1007.57 1142.50)" font-family="Liberation Serif" font-style="normal" font-size="100" fill="#262626" stroke="#262626" stroke-width="0.50">2</text>
<text transform="matrix(0.3597 0 0 0.3541 1277.78 1142.57)" font-family="Liberation Serif" font-style="normal" font-size="100" fill="#262626" stroke="#262626" stroke-width="0.51">2.5</text>
<text transform="matrix(0.3585 0 0 0.3716 1579.21 1143.33)" font-family="Liberation Serif" font-style="normal" font-size="100" fill="#262626" stroke="#262626" stroke-width="0.50">3</text>
<text transform="matrix(0.5000 0 0 0.3716 1180.70 1189.20)" font-family="Liberation Serif" font-style="italic" font-size="100" fill="#262626" stroke="#262626" stroke-width="0.48">f</text>
<text transform="matrix(0.3898 0 0 0.4278 1216.45 1189.52)" font-family="Liberation Serif" font-style="normal" font-size="100" fill="#262626" stroke="#262626" stroke-width="0.46">(kHz)</text>
<text transform="matrix(0 -0.4032 0.3881 0 850.61 694.11)" font-family="Liberation Serif" font-style="normal" font-size="100" fill="#262626" stroke="#262626" stroke-width="0.46">Transmission</text>
<text transform="matrix(0.4061 0 0 0.3358 1595.48 44.75)" font-family="Liberation Serif" font-style="italic" font-size="100" fill="#262626" stroke="#262626" stroke-width="0.54">&#966;</text>
<text transform="matrix(0.3437 0 0 0.2646 1619.17 49.20)" font-family="Liberation Serif" font-style="italic" font-size="100" fill="#262626" stroke="#262626" stroke-width="0.68">II</text>
<text transform="matrix(0.3746 0 0 0.3388 1598.61 162.36)" font-family="Liberation Serif" font-style="normal" font-size="100" fill="#262626" stroke="#262626" stroke-width="0.53">2&#960;</text>
<text transform="matrix(0.2968 0 0 0.3161 1600.35 607.88)" font-family="Liberation Serif" font-style="normal" font-size="100" fill="#262626" stroke="#262626" stroke-width="0.61">&#960;</text>
<text transform="matrix(0.3667 0 0 0.3407 1598.53 1055.96)" font-family="Liberation Serif" font-style="normal" font-size="100" fill="#262626" stroke="#262626" stroke-width="0.53">0</text>
<text transform="matrix(0.3980 0 0 0.4818 -0.79 28.02)" font-family="Liberation Sans" font-style="normal" font-size="100" fill="#000" stroke="#000" stroke-width="0.45">a</text>
<text transform="matrix(0.4978 0 0 0.5156 8.16 703.98)" font-family="Liberation Sans" font-style="normal" font-size="100" fill="#000" stroke="#000" stroke-width="0.36">b</text>
<text transform="matrix(0.4488 0 0 0.4782 817.88 26.72)" font-family="Liberation Sans" font-style="normal" font-size="100" fill="#000" stroke="#000" stroke-width="0.40">c</text>
<text transform="matrix(0.2530 0 0 0.2632 1603.26 263.02)" font-family="Liberation Serif" font-style="normal" font-size="100" fill="#262626" stroke="#262626" stroke-width="0.71">7&#960;</text>
<text transform="matrix(0.2323 0 0 0.2569 1610.54 287.91)" font-family="Liberation Serif" font-style="normal" font-size="100" fill="#262626" stroke="#262626" stroke-width="0.77">4</text>
<text transform="matrix(0.2585 0 0 0.2612 1603.01 374.30)" font-family="Liberation Serif" font-style="normal" font-size="100" fill="#262626" stroke="#262626" stroke-width="0.70">3&#960;</text>
<text transform="matrix(0.2700 0 0 0.2530 1609.63 399.06)" font-family="Liberation Serif" font-style="normal" font-size="100" fill="#262626" stroke="#262626" stroke-width="0.71">2</text>
<text transform="matrix(0.2613 0 0 0.2632 1602.73 485.58)" font-family="Liberation Serif" font-style="normal" font-size="100" fill="#262626" stroke="#262626" stroke-width="0.69">5&#960;</text>
<text transform="matrix(0.2323 0 0 0.2569 1610.39 510.47)" font-family="Liberation Serif" font-style="normal" font-size="100" fill="#262626" stroke="#262626" stroke-width="0.77">4</text>
<text transform="matrix(0.2574 0 0 0.2612 1603.41 708.14)" font-family="Liberation Serif" font-style="normal" font-size="100" fill="#262626" stroke="#262626" stroke-width="0.70">3&#960;</text>
<text transform="matrix(0.2323 0 0 0.2569 1610.74 733.03)" font-family="Liberation Serif" font-style="normal" font-size="100" fill="#262626" stroke="#262626" stroke-width="0.77">4</text>
<text transform="matrix(0.2863 0 0 0.2387 1603.37 818.44)" font-family="Liberation Serif" font-style="normal" font-size="100" fill="#262626" stroke="#262626" stroke-width="0.75">&#960;</text>
<text transform="matrix(0.2700 0 0 0.2530 1603.79 844.18)" font-family="Liberation Serif" font-style="normal" font-size="100" fill="#262626" stroke="#262626" stroke-width="0.71">2</text>
<text transform="matrix(0.2863 0 0 0.2387 1603.37 929.72)" font-family="Liberation Serif" font-style="normal" font-size="100" fill="#262626" stroke="#262626" stroke-width="0.75">&#960;</text>
<text transform="matrix(0.2323 0 0 0.2569 1604.54 955.59)" font-family="Liberation Serif" font-style="normal" font-size="100" fill="#262626" stroke="#262626" stroke-width="0.77">4</text>
<rect x="1603.4" y="265.83" width="26.0" height="1.5" fill="#262626"/>
<rect x="1602.8" y="377.11" width="26.9" height="1.5" fill="#262626"/>
<rect x="1602.8" y="488.39" width="26.9" height="1.5" fill="#262626"/>
<rect x="1603.2" y="710.95" width="26.8" height="1.5" fill="#262626"/>
<rect x="1603.0" y="822.23" width="14.8" height="1.5" fill="#262626"/>
<rect x="1603.0" y="933.51" width="14.8" height="1.5" fill="#262626"/>
</svg>
</body></html>
